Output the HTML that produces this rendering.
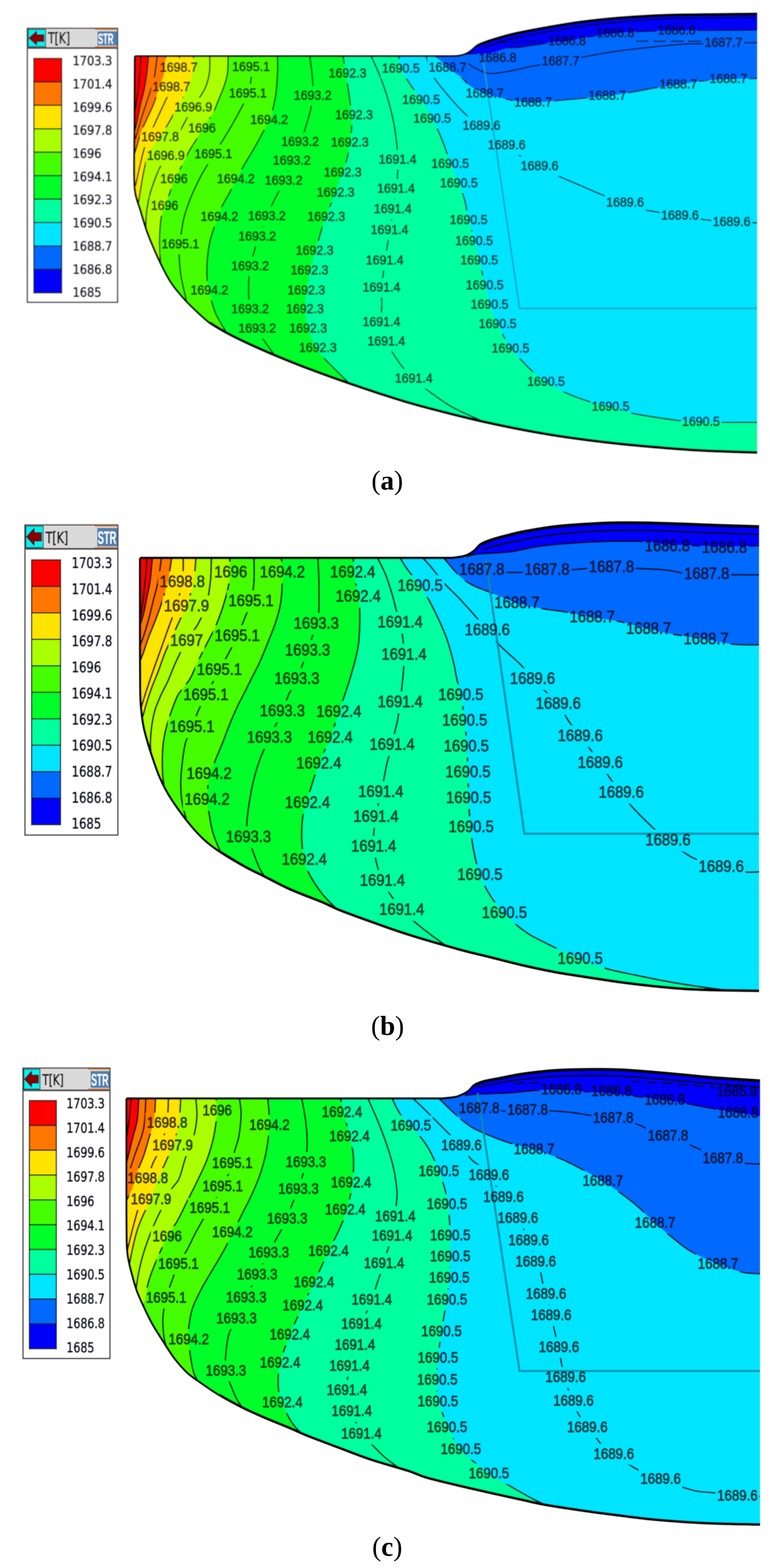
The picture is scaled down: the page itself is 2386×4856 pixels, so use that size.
<!DOCTYPE html>
<html lang="en"><head><meta charset="utf-8"><title>Temperature contours</title>
<style>html,body{margin:0;padding:0;background:#fff}svg{display:block}</style></head>
<body><svg width="2386" height="4856" viewBox="0 0 2386 4856">
<rect x="0" y="0" width="2386" height="4856" fill="#fff"/>
<filter id="softa" filterUnits="userSpaceOnUse" x="0" y="0" width="2386" height="1430"><feGaussianBlur stdDeviation="1.5"/></filter>
<g filter="url(#softa)">
<clipPath id="cla"><path d="M418.0,174.0L1380.0,174.0C1386.7,173.8 1409.2,174.3 1420.0,173.0C1430.8,171.7 1438.0,169.0 1445.0,166.0C1452.0,163.0 1456.5,159.2 1462.0,155.0C1467.5,150.8 1471.7,145.0 1478.0,141.0C1484.3,137.0 1488.0,135.3 1500.0,131.0C1512.0,126.7 1533.3,119.8 1550.0,115.0C1566.7,110.2 1575.0,107.3 1600.0,102.0C1625.0,96.7 1666.7,88.8 1700.0,83.0C1733.3,77.2 1766.7,71.5 1800.0,67.0C1833.3,62.5 1866.7,59.0 1900.0,56.0C1933.3,53.0 1966.7,50.8 2000.0,49.0C2033.3,47.2 2042.3,46.2 2100.0,45.0C2157.7,43.8 2305.0,42.5 2346.0,42.0L2346.0,1402.0C2321.7,1401.2 2241.0,1398.8 2200.0,1397.0C2159.0,1395.2 2150.0,1395.0 2100.0,1391.0C2050.0,1387.0 1966.7,1380.5 1900.0,1373.0C1833.3,1365.5 1766.7,1357.0 1700.0,1346.0C1633.3,1335.0 1566.7,1321.8 1500.0,1307.0C1433.3,1292.2 1350.0,1270.3 1300.0,1257.0C1250.0,1243.7 1236.7,1238.7 1200.0,1227.0C1163.3,1215.3 1121.7,1201.5 1080.0,1187.0C1038.3,1172.5 988.3,1154.5 950.0,1140.0C911.7,1125.5 881.7,1113.3 850.0,1100.0C818.3,1086.7 785.0,1071.7 760.0,1060.0C735.0,1048.3 718.3,1040.0 700.0,1030.0C681.7,1020.0 665.0,1010.8 650.0,1000.0C635.0,989.2 623.3,977.5 610.0,965.0C596.7,952.5 583.3,940.0 570.0,925.0C556.7,910.0 541.7,892.5 530.0,875.0C518.3,857.5 509.2,838.3 500.0,820.0C490.8,801.7 482.5,782.5 475.0,765.0C467.5,747.5 461.7,734.2 455.0,715.0C448.3,695.8 440.8,669.2 435.0,650.0C429.2,630.8 423.2,618.3 420.0,600.0C416.8,581.7 416.5,573.3 416.0,540.0C415.5,506.7 416.8,423.3 417.0,400.0L418.0,174.0Z"/></clipPath>
<mask id="mka" maskUnits="userSpaceOnUse" x="0" y="0" width="2386" height="4856"><rect x="0" y="0" width="2386" height="4856" fill="#fff"/><rect x="491.4" y="179.7" width="127.1" height="60.6" fill="#000"/><rect x="715.4" y="177.7" width="127.1" height="60.6" fill="#000"/><rect x="1014.4" y="197.7" width="127.1" height="60.6" fill="#000"/><rect x="1179.4" y="182.7" width="127.1" height="60.6" fill="#000"/><rect x="468.4" y="239.7" width="127.1" height="60.6" fill="#000"/><rect x="705.4" y="259.7" width="127.1" height="60.6" fill="#000"/><rect x="906.4" y="266.7" width="127.1" height="60.6" fill="#000"/><rect x="536.4" y="302.7" width="127.1" height="60.6" fill="#000"/><rect x="1034.4" y="326.7" width="127.1" height="60.6" fill="#000"/><rect x="771.4" y="341.7" width="127.1" height="60.6" fill="#000"/><rect x="579.4" y="367.7" width="95.2" height="60.6" fill="#000"/><rect x="433.4" y="394.7" width="127.1" height="60.6" fill="#000"/><rect x="867.4" y="409.7" width="127.1" height="60.6" fill="#000"/><rect x="1021.4" y="411.7" width="127.1" height="60.6" fill="#000"/><rect x="451.4" y="452.7" width="127.1" height="60.6" fill="#000"/><rect x="598.4" y="447.7" width="127.1" height="60.6" fill="#000"/><rect x="841.4" y="467.7" width="127.1" height="60.6" fill="#000"/><rect x="999.4" y="504.7" width="127.1" height="60.6" fill="#000"/><rect x="492.4" y="524.7" width="95.2" height="60.6" fill="#000"/><rect x="668.4" y="524.7" width="127.1" height="60.6" fill="#000"/><rect x="816.4" y="529.7" width="127.1" height="60.6" fill="#000"/><rect x="977.4" y="566.7" width="127.1" height="60.6" fill="#000"/><rect x="463.4" y="607.7" width="95.2" height="60.6" fill="#000"/><rect x="617.4" y="641.7" width="127.1" height="60.6" fill="#000"/><rect x="764.4" y="639.7" width="127.1" height="60.6" fill="#000"/><rect x="948.4" y="641.7" width="127.1" height="60.6" fill="#000"/><rect x="734.4" y="702.7" width="127.1" height="60.6" fill="#000"/><rect x="496.4" y="726.7" width="127.1" height="60.6" fill="#000"/><rect x="912.4" y="746.7" width="127.1" height="60.6" fill="#000"/><rect x="712.4" y="794.7" width="127.1" height="60.6" fill="#000"/><rect x="896.4" y="807.7" width="127.1" height="60.6" fill="#000"/><rect x="586.4" y="869.7" width="127.1" height="60.6" fill="#000"/><rect x="886.4" y="869.7" width="127.1" height="60.6" fill="#000"/><rect x="712.4" y="927.7" width="127.1" height="60.6" fill="#000"/><rect x="882.4" y="927.7" width="127.1" height="60.6" fill="#000"/><rect x="734.4" y="987.7" width="127.1" height="60.6" fill="#000"/><rect x="892.4" y="987.7" width="127.1" height="60.6" fill="#000"/><rect x="922.4" y="1047.7" width="127.1" height="60.6" fill="#000"/><rect x="1169.4" y="464.7" width="127.1" height="60.6" fill="#000"/><rect x="1164.4" y="554.7" width="127.1" height="60.6" fill="#000"/><rect x="1154.4" y="617.7" width="127.1" height="60.6" fill="#000"/><rect x="1144.4" y="682.7" width="127.1" height="60.6" fill="#000"/><rect x="1129.4" y="776.7" width="127.1" height="60.6" fill="#000"/><rect x="1119.4" y="860.7" width="127.1" height="60.6" fill="#000"/><rect x="1119.4" y="967.7" width="127.1" height="60.6" fill="#000"/><rect x="1134.4" y="1027.7" width="127.1" height="60.6" fill="#000"/><rect x="1219.4" y="1142.7" width="127.1" height="60.6" fill="#000"/><rect x="1324.4" y="179.7" width="127.1" height="60.6" fill="#000"/><rect x="1242.4" y="279.7" width="127.1" height="60.6" fill="#000"/><rect x="1276.4" y="337.7" width="127.1" height="60.6" fill="#000"/><rect x="1439.4" y="259.7" width="127.1" height="60.6" fill="#000"/><rect x="1429.4" y="359.7" width="127.1" height="60.6" fill="#000"/><rect x="1507.4" y="419.7" width="127.1" height="60.6" fill="#000"/><rect x="1609.4" y="484.7" width="127.1" height="60.6" fill="#000"/><rect x="1332.4" y="477.7" width="127.1" height="60.6" fill="#000"/><rect x="1359.4" y="537.7" width="127.1" height="60.6" fill="#000"/><rect x="1389.4" y="651.7" width="127.1" height="60.6" fill="#000"/><rect x="1406.4" y="716.7" width="127.1" height="60.6" fill="#000"/><rect x="1422.4" y="776.7" width="127.1" height="60.6" fill="#000"/><rect x="1439.4" y="853.7" width="127.1" height="60.6" fill="#000"/><rect x="1454.4" y="913.7" width="127.1" height="60.6" fill="#000"/><rect x="1479.4" y="973.7" width="127.1" height="60.6" fill="#000"/><rect x="1519.4" y="1049.7" width="127.1" height="60.6" fill="#000"/><rect x="1629.4" y="1152.7" width="127.1" height="60.6" fill="#000"/><rect x="1829.4" y="1229.7" width="127.1" height="60.6" fill="#000"/><rect x="2109.4" y="1276.7" width="127.1" height="60.6" fill="#000"/><rect x="1479.4" y="149.7" width="127.1" height="60.6" fill="#000"/><rect x="1674.4" y="159.7" width="127.1" height="60.6" fill="#000"/><rect x="1694.4" y="97.7" width="127.1" height="60.6" fill="#000"/><rect x="1844.4" y="72.7" width="127.1" height="60.6" fill="#000"/><rect x="2034.4" y="64.7" width="127.1" height="60.6" fill="#000"/><rect x="2179.4" y="102.7" width="127.1" height="60.6" fill="#000"/><rect x="1589.4" y="287.7" width="127.1" height="60.6" fill="#000"/><rect x="1819.4" y="266.7" width="127.1" height="60.6" fill="#000"/><rect x="2039.4" y="231.7" width="127.1" height="60.6" fill="#000"/><rect x="2194.4" y="214.7" width="127.1" height="60.6" fill="#000"/><rect x="1874.4" y="597.7" width="127.1" height="60.6" fill="#000"/><rect x="2044.4" y="637.7" width="127.1" height="60.6" fill="#000"/><rect x="2204.4" y="657.7" width="127.1" height="60.6" fill="#000"/></mask>
<g clip-path="url(#cla)">
<rect x="300" y="22" width="2200" height="1400" fill="#fc0000"/>
<path d="M460.0,174.0C459.2,182.5 457.2,208.2 455.0,225.0C452.8,241.8 450.3,258.3 447.0,275.0C443.7,291.7 438.7,308.3 435.0,325.0C431.3,341.7 428.2,360.5 425.0,375.0C421.8,389.5 417.5,405.8 416.0,412.0L116.0,412.0L116.0,1722.0L3000.0,1722.0L3000.0,-278.0L460.0,-278.0Z" fill="#ff7600"/>
<path d="M513.0,174.0C512.3,182.5 512.5,208.2 509.0,225.0C505.5,241.8 497.7,258.3 492.0,275.0C486.3,291.7 481.7,308.3 475.0,325.0C468.3,341.7 458.3,360.8 452.0,375.0C445.7,389.2 441.5,397.5 437.0,410.0C432.5,422.5 428.5,438.3 425.0,450.0C421.5,461.7 417.5,475.0 416.0,480.0L116.0,480.0L116.0,1722.0L3000.0,1722.0L3000.0,-278.0L513.0,-278.0Z" fill="#ffe400"/>
<path d="M600.0,174.0C599.5,182.5 599.5,209.8 597.0,225.0C594.5,240.2 590.3,251.7 585.0,265.0C579.7,278.3 571.7,292.5 565.0,305.0C558.3,317.5 552.5,326.7 545.0,340.0C537.5,353.3 529.5,369.7 520.0,385.0C510.5,400.3 497.7,417.8 488.0,432.0C478.3,446.2 468.3,457.0 462.0,470.0C455.7,483.0 453.7,495.0 450.0,510.0C446.3,525.0 443.0,543.3 440.0,560.0C437.0,576.7 434.7,593.8 432.0,610.0C429.3,626.2 425.3,649.2 424.0,657.0L124.0,657.0L124.0,1722.0L3000.0,1722.0L3000.0,-278.0L600.0,-278.0Z" fill="#aaff04"/>
<path d="M707.0,174.0C706.7,182.5 707.0,209.8 705.0,225.0C703.0,240.2 699.7,250.8 695.0,265.0C690.3,279.2 682.8,295.8 677.0,310.0C671.2,324.2 667.8,335.8 660.0,350.0C652.2,364.2 638.3,381.7 630.0,395.0C621.7,408.3 617.5,417.5 610.0,430.0C602.5,442.5 593.3,455.0 585.0,470.0C576.7,485.0 567.5,505.5 560.0,520.0C552.5,534.5 545.8,543.7 540.0,557.0C534.2,570.3 529.8,586.2 525.0,600.0C520.2,613.8 515.2,628.3 511.0,640.0C506.8,651.7 502.7,655.8 500.0,670.0C497.3,684.2 495.8,707.5 495.0,725.0C494.2,742.5 494.5,759.5 495.0,775.0C495.5,790.5 497.5,810.8 498.0,818.0L198.0,818.0L198.0,1722.0L3000.0,1722.0L3000.0,-278.0L707.0,-278.0Z" fill="#44fe04"/>
<path d="M860.0,174.0C860.0,182.5 860.8,205.7 860.0,225.0C859.2,244.3 857.5,270.8 855.0,290.0C852.5,309.2 848.3,326.3 845.0,340.0C841.7,353.7 839.2,362.0 835.0,372.0C830.8,382.0 827.5,386.2 820.0,400.0C812.5,413.8 800.0,437.5 790.0,455.0C780.0,472.5 769.7,488.3 760.0,505.0C750.3,521.7 739.5,540.8 732.0,555.0C724.5,569.2 722.8,575.0 715.0,590.0C707.2,605.0 693.3,626.7 685.0,645.0C676.7,663.3 670.8,682.5 665.0,700.0C659.2,717.5 653.8,731.7 650.0,750.0C646.2,768.3 643.3,790.8 642.0,810.0C640.7,829.2 641.0,850.0 642.0,865.0C643.0,880.0 645.8,889.2 648.0,900.0C650.2,910.8 651.3,917.5 655.0,930.0C658.7,942.5 662.2,958.3 670.0,975.0C677.8,991.7 696.7,1020.8 702.0,1030.0L734.0,1330.0L3000.0,1722.0L3000.0,-278.0L860.0,-278.0Z" fill="#00fe2a"/>
<path d="M1063.0,174.0C1065.0,186.7 1071.3,225.7 1075.0,250.0C1078.7,274.3 1082.5,298.3 1085.0,320.0C1087.5,341.7 1090.0,360.0 1090.0,380.0C1090.0,400.0 1087.8,420.0 1085.0,440.0C1082.2,460.0 1078.7,480.0 1073.0,500.0C1067.3,520.0 1058.2,540.0 1051.0,560.0C1043.8,580.0 1037.5,600.0 1030.0,620.0C1022.5,640.0 1013.5,658.3 1006.0,680.0C998.5,701.7 991.8,726.7 985.0,750.0C978.2,773.3 970.8,795.0 965.0,820.0C959.2,845.0 953.2,876.7 950.0,900.0C946.8,923.3 945.2,940.0 946.0,960.0C946.8,980.0 949.3,1000.8 955.0,1020.0C960.7,1039.2 971.7,1060.0 980.0,1075.0C988.3,1090.0 988.0,1091.3 1005.0,1110.0C1022.0,1128.7 1069.2,1174.2 1082.0,1187.0L1159.0,1487.0L3000.0,1722.0L3000.0,-278.0L1063.0,-278.0Z" fill="#00ff9e"/>
<path d="M1235.0,174.0C1236.3,180.5 1237.2,198.7 1243.0,213.0C1248.8,227.3 1259.5,243.8 1270.0,260.0C1280.5,276.2 1294.3,292.0 1306.0,310.0C1317.7,328.0 1331.0,351.3 1340.0,368.0C1349.0,384.7 1353.3,394.7 1360.0,410.0C1366.7,425.3 1374.0,443.7 1380.0,460.0C1386.0,476.3 1388.8,490.0 1396.0,508.0C1403.2,526.0 1415.7,549.3 1423.0,568.0C1430.3,586.7 1435.0,601.0 1440.0,620.0C1445.0,639.0 1448.0,660.8 1453.0,682.0C1458.0,703.2 1464.5,726.2 1470.0,747.0C1475.5,767.8 1481.8,789.8 1486.0,807.0C1490.2,824.2 1492.2,837.0 1495.0,850.0C1497.8,863.0 1499.2,869.2 1503.0,885.0C1506.8,900.8 1511.3,925.0 1518.0,945.0C1524.7,965.0 1536.0,989.2 1543.0,1005.0C1550.0,1020.8 1553.3,1027.5 1560.0,1040.0C1566.7,1052.5 1573.0,1066.7 1583.0,1080.0C1593.0,1093.3 1608.8,1108.3 1620.0,1120.0C1631.2,1131.7 1637.8,1139.5 1650.0,1150.0C1662.2,1160.5 1676.3,1172.2 1693.0,1183.0C1709.7,1193.8 1727.2,1204.7 1750.0,1215.0C1772.8,1225.3 1806.2,1237.5 1830.0,1245.0C1853.8,1252.5 1871.3,1254.2 1893.0,1260.0C1914.7,1265.8 1933.8,1274.2 1960.0,1280.0C1986.2,1285.8 2025.0,1291.2 2050.0,1295.0C2075.0,1298.8 2089.5,1301.0 2110.0,1303.0C2130.5,1305.0 2151.3,1306.2 2173.0,1307.0C2194.7,1307.8 2211.2,1307.8 2240.0,1308.0C2268.8,1308.2 2328.3,1308.0 2346.0,1308.0L3000.0,1308.0L3000.0,-278.0L1235.0,-278.0Z" fill="#00e5ff"/>
<path d="M1350.0,174.0C1356.3,180.0 1374.7,199.0 1388.0,210.0C1401.3,221.0 1418.8,230.8 1430.0,240.0C1441.2,249.2 1442.8,256.7 1455.0,265.0C1467.2,273.3 1485.5,283.3 1503.0,290.0C1520.5,296.7 1543.8,301.2 1560.0,305.0C1576.2,308.8 1584.5,310.8 1600.0,313.0C1615.5,315.2 1633.0,318.2 1653.0,318.0C1673.0,317.8 1695.5,314.2 1720.0,312.0C1744.5,309.8 1772.8,307.5 1800.0,305.0C1827.2,302.5 1856.3,300.3 1883.0,297.0C1909.7,293.7 1935.5,289.2 1960.0,285.0C1984.5,280.8 2006.2,275.8 2030.0,272.0C2053.8,268.2 2078.0,265.7 2103.0,262.0C2128.0,258.3 2154.2,252.8 2180.0,250.0C2205.8,247.2 2230.3,246.2 2258.0,245.0C2285.7,243.8 2331.3,243.3 2346.0,243.0L3000.0,243.0L3000.0,-278.0L1350.0,-278.0Z" fill="#0069ff"/>
<path d="M1440.0,168.0C1445.0,167.7 1456.7,166.5 1470.0,166.0C1483.3,165.5 1503.3,167.7 1520.0,165.0C1536.7,162.3 1553.3,153.3 1570.0,150.0C1586.7,146.7 1595.0,148.3 1620.0,145.0C1645.0,141.7 1697.0,132.8 1720.0,130.0C1743.0,127.2 1741.3,130.5 1758.0,128.0C1774.7,125.5 1795.0,119.2 1820.0,115.0C1845.0,110.8 1878.0,106.0 1908.0,103.0C1938.0,100.0 1968.3,98.3 2000.0,97.0C2031.7,95.7 2064.7,95.5 2098.0,95.0C2131.3,94.5 2158.7,94.3 2200.0,94.0C2241.3,93.7 2321.7,93.2 2346.0,93.0L3000.0,93.0L3000.0,-278.0L1440.0,-278.0Z" fill="#0202fa"/>
</g>
<g clip-path="url(#cla)"><g mask="url(#mka)" fill="none" stroke="#000" stroke-width="4.0" stroke-opacity="0.85">
<path d="M437.0,174.0C436.2,185.0 434.0,219.0 432.0,240.0C430.0,261.0 427.3,282.5 425.0,300.0C422.7,317.5 419.2,337.5 418.0,345.0"/>
<path d="M460.0,174.0C459.2,182.5 457.2,208.2 455.0,225.0C452.8,241.8 450.3,258.3 447.0,275.0C443.7,291.7 438.7,308.3 435.0,325.0C431.3,341.7 428.2,360.5 425.0,375.0C421.8,389.5 417.5,405.8 416.0,412.0"/>
<path d="M487.0,174.0C485.5,185.0 482.8,218.0 478.0,240.0C473.2,262.0 464.8,284.3 458.0,306.0C451.2,327.7 443.3,349.3 437.0,370.0C430.7,390.7 422.8,420.0 420.0,430.0"/>
<path d="M513.0,174.0C512.3,182.5 512.5,208.2 509.0,225.0C505.5,241.8 497.7,258.3 492.0,275.0C486.3,291.7 481.7,308.3 475.0,325.0C468.3,341.7 458.3,360.8 452.0,375.0C445.7,389.2 441.5,397.5 437.0,410.0C432.5,422.5 428.5,438.3 425.0,450.0C421.5,461.7 417.5,475.0 416.0,480.0"/>
<path d="M556.0,174.0C555.0,183.3 553.5,214.0 550.0,230.0C546.5,246.0 540.5,257.8 535.0,270.0C529.5,282.2 527.0,282.5 517.0,303.0C507.0,323.5 486.2,368.5 475.0,393.0C463.8,417.5 457.2,428.8 450.0,450.0C442.8,471.2 437.0,499.2 432.0,520.0C427.0,540.8 422.0,565.8 420.0,575.0"/>
<path d="M600.0,174.0C599.5,182.5 599.5,209.8 597.0,225.0C594.5,240.2 590.3,251.7 585.0,265.0C579.7,278.3 571.7,292.5 565.0,305.0C558.3,317.5 552.5,326.7 545.0,340.0C537.5,353.3 529.5,369.7 520.0,385.0C510.5,400.3 497.7,417.8 488.0,432.0C478.3,446.2 468.3,457.0 462.0,470.0C455.7,483.0 453.7,495.0 450.0,510.0C446.3,525.0 443.0,543.3 440.0,560.0C437.0,576.7 434.7,593.8 432.0,610.0C429.3,626.2 425.3,649.2 424.0,657.0"/>
<path d="M650.0,174.0C649.8,182.5 651.2,209.0 649.0,225.0C646.8,241.0 642.2,257.0 637.0,270.0C631.8,283.0 624.2,292.5 618.0,303.0C611.8,313.5 606.3,322.7 600.0,333.0C593.7,343.3 589.2,348.8 580.0,365.0C570.8,381.2 555.8,410.3 545.0,430.0C534.2,449.7 523.3,468.0 515.0,483.0C506.7,498.0 500.5,508.8 495.0,520.0C489.5,531.2 487.0,536.7 482.0,550.0C477.0,563.3 469.5,583.3 465.0,600.0C460.5,616.7 457.2,633.3 455.0,650.0C452.8,666.7 452.0,688.7 452.0,700.0C452.0,711.3 454.5,715.0 455.0,718.0"/>
<path d="M707.0,174.0C706.7,182.5 707.0,209.8 705.0,225.0C703.0,240.2 699.7,250.8 695.0,265.0C690.3,279.2 682.8,295.8 677.0,310.0C671.2,324.2 667.8,335.8 660.0,350.0C652.2,364.2 638.3,381.7 630.0,395.0C621.7,408.3 617.5,417.5 610.0,430.0C602.5,442.5 593.3,455.0 585.0,470.0C576.7,485.0 567.5,505.5 560.0,520.0C552.5,534.5 545.8,543.7 540.0,557.0C534.2,570.3 529.8,586.2 525.0,600.0C520.2,613.8 515.2,628.3 511.0,640.0C506.8,651.7 502.7,655.8 500.0,670.0C497.3,684.2 495.8,707.5 495.0,725.0C494.2,742.5 494.5,759.5 495.0,775.0C495.5,790.5 497.5,810.8 498.0,818.0"/>
<path d="M780.0,174.0C779.8,179.7 779.3,196.2 779.0,208.0C778.7,219.8 779.7,231.3 778.0,245.0C776.3,258.7 773.7,275.8 769.0,290.0C764.3,304.2 758.2,314.2 750.0,330.0C741.8,345.8 730.0,367.5 720.0,385.0C710.0,402.5 699.7,419.5 690.0,435.0C680.3,450.5 670.3,464.7 662.0,478.0C653.7,491.3 647.0,503.0 640.0,515.0C633.0,527.0 628.3,533.3 620.0,550.0C611.7,566.7 598.3,594.2 590.0,615.0C581.7,635.8 574.7,657.5 570.0,675.0C565.3,692.5 564.0,706.3 562.0,720.0C560.0,733.7 559.2,746.2 558.0,757.0C556.8,767.8 554.7,769.5 555.0,785.0C555.3,800.5 556.7,827.5 560.0,850.0C563.3,872.5 571.7,905.3 575.0,920.0C578.3,934.7 579.2,935.0 580.0,938.0"/>
<path d="M860.0,174.0C860.0,182.5 860.8,205.7 860.0,225.0C859.2,244.3 857.5,270.8 855.0,290.0C852.5,309.2 848.3,326.3 845.0,340.0C841.7,353.7 839.2,362.0 835.0,372.0C830.8,382.0 827.5,386.2 820.0,400.0C812.5,413.8 800.0,437.5 790.0,455.0C780.0,472.5 769.7,488.3 760.0,505.0C750.3,521.7 739.5,540.8 732.0,555.0C724.5,569.2 722.8,575.0 715.0,590.0C707.2,605.0 693.3,626.7 685.0,645.0C676.7,663.3 670.8,682.5 665.0,700.0C659.2,717.5 653.8,731.7 650.0,750.0C646.2,768.3 643.3,790.8 642.0,810.0C640.7,829.2 641.0,850.0 642.0,865.0C643.0,880.0 645.8,889.2 648.0,900.0C650.2,910.8 651.3,917.5 655.0,930.0C658.7,942.5 662.2,958.3 670.0,975.0C677.8,991.7 696.7,1020.8 702.0,1030.0"/>
<path d="M960.0,174.0C961.3,185.0 966.3,219.5 968.0,240.0C969.7,260.5 971.3,278.7 970.0,297.0C968.7,315.3 964.2,332.8 960.0,350.0C955.8,367.2 949.8,385.0 945.0,400.0C940.2,415.0 937.7,423.7 931.0,440.0C924.3,456.3 913.5,478.0 905.0,498.0C896.5,518.0 888.3,541.3 880.0,560.0C871.7,578.7 861.7,596.7 855.0,610.0C848.3,623.3 844.5,630.0 840.0,640.0C835.5,650.0 835.0,654.5 828.0,670.0C821.0,685.5 804.3,716.3 798.0,733.0C791.7,749.7 792.7,758.8 790.0,770.0C787.3,781.2 784.3,790.8 782.0,800.0C779.7,809.2 777.8,815.0 776.0,825.0C774.2,835.0 771.8,842.5 771.0,860.0C770.2,877.5 770.2,913.7 771.0,930.0C771.8,946.3 771.5,943.3 776.0,958.0C780.5,972.7 791.5,1002.7 798.0,1018.0C804.5,1033.3 806.0,1036.2 815.0,1050.0C824.0,1063.8 845.8,1092.5 852.0,1101.0"/>
<path d="M1063.0,174.0C1065.0,186.7 1071.3,225.7 1075.0,250.0C1078.7,274.3 1082.5,298.3 1085.0,320.0C1087.5,341.7 1090.0,360.0 1090.0,380.0C1090.0,400.0 1087.8,420.0 1085.0,440.0C1082.2,460.0 1078.7,480.0 1073.0,500.0C1067.3,520.0 1058.2,540.0 1051.0,560.0C1043.8,580.0 1037.5,600.0 1030.0,620.0C1022.5,640.0 1013.5,658.3 1006.0,680.0C998.5,701.7 991.8,726.7 985.0,750.0C978.2,773.3 970.8,795.0 965.0,820.0C959.2,845.0 953.2,876.7 950.0,900.0C946.8,923.3 945.2,940.0 946.0,960.0C946.8,980.0 949.3,1000.8 955.0,1020.0C960.7,1039.2 971.7,1060.0 980.0,1075.0C988.3,1090.0 988.0,1091.3 1005.0,1110.0C1022.0,1128.7 1069.2,1174.2 1082.0,1187.0"/>
<path d="M1150.0,174.0C1154.2,183.3 1166.7,209.0 1175.0,230.0C1183.3,251.0 1192.5,275.0 1200.0,300.0C1207.5,325.0 1215.0,355.0 1220.0,380.0C1225.0,405.0 1227.8,430.8 1230.0,450.0C1232.2,469.2 1232.7,480.0 1233.0,495.0C1233.3,510.0 1232.8,525.0 1232.0,540.0C1231.2,555.0 1230.3,567.0 1228.0,585.0C1225.7,603.0 1221.3,626.7 1218.0,648.0C1214.7,669.3 1212.2,686.5 1208.0,713.0C1203.8,739.5 1197.2,777.5 1193.0,807.0C1188.8,836.5 1184.7,867.8 1183.0,890.0C1181.3,912.2 1183.0,922.0 1183.0,940.0C1183.0,958.0 1180.5,978.3 1183.0,998.0C1185.5,1017.7 1192.7,1042.7 1198.0,1058.0C1203.3,1073.3 1206.3,1076.3 1215.0,1090.0C1223.7,1103.7 1238.7,1126.2 1250.0,1140.0C1261.3,1153.8 1271.3,1162.2 1283.0,1173.0C1294.7,1183.8 1300.5,1190.5 1320.0,1205.0C1339.5,1219.5 1371.3,1243.7 1400.0,1260.0C1428.7,1276.3 1476.7,1295.8 1492.0,1303.0"/>
<path d="M1235.0,174.0C1236.3,180.5 1237.2,198.7 1243.0,213.0C1248.8,227.3 1259.5,243.8 1270.0,260.0C1280.5,276.2 1294.3,292.0 1306.0,310.0C1317.7,328.0 1331.0,351.3 1340.0,368.0C1349.0,384.7 1353.3,394.7 1360.0,410.0C1366.7,425.3 1374.0,443.7 1380.0,460.0C1386.0,476.3 1388.8,490.0 1396.0,508.0C1403.2,526.0 1415.7,549.3 1423.0,568.0C1430.3,586.7 1435.0,601.0 1440.0,620.0C1445.0,639.0 1448.0,660.8 1453.0,682.0C1458.0,703.2 1464.5,726.2 1470.0,747.0C1475.5,767.8 1481.8,789.8 1486.0,807.0C1490.2,824.2 1492.2,837.0 1495.0,850.0C1497.8,863.0 1499.2,869.2 1503.0,885.0C1506.8,900.8 1511.3,925.0 1518.0,945.0C1524.7,965.0 1536.0,989.2 1543.0,1005.0C1550.0,1020.8 1553.3,1027.5 1560.0,1040.0C1566.7,1052.5 1573.0,1066.7 1583.0,1080.0C1593.0,1093.3 1608.8,1108.3 1620.0,1120.0C1631.2,1131.7 1637.8,1139.5 1650.0,1150.0C1662.2,1160.5 1676.3,1172.2 1693.0,1183.0C1709.7,1193.8 1727.2,1204.7 1750.0,1215.0C1772.8,1225.3 1806.2,1237.5 1830.0,1245.0C1853.8,1252.5 1871.3,1254.2 1893.0,1260.0C1914.7,1265.8 1933.8,1274.2 1960.0,1280.0C1986.2,1285.8 2025.0,1291.2 2050.0,1295.0C2075.0,1298.8 2089.5,1301.0 2110.0,1303.0C2130.5,1305.0 2151.3,1306.2 2173.0,1307.0C2194.7,1307.8 2211.2,1307.8 2240.0,1308.0C2268.8,1308.2 2328.3,1308.0 2346.0,1308.0"/>
<path d="M1320.0,174.0C1324.2,185.0 1330.0,215.7 1345.0,240.0C1360.0,264.3 1391.7,299.2 1410.0,320.0C1428.3,340.8 1441.2,353.3 1455.0,365.0C1468.8,376.7 1473.7,375.8 1493.0,390.0C1512.3,404.2 1550.7,434.2 1571.0,450.0C1591.3,465.8 1598.0,474.2 1615.0,485.0C1632.0,495.8 1653.8,505.0 1673.0,515.0C1692.2,525.0 1708.8,535.0 1730.0,545.0C1751.2,555.0 1776.7,565.0 1800.0,575.0C1823.3,585.0 1847.0,596.2 1870.0,605.0C1893.0,613.8 1916.3,620.5 1938.0,628.0C1959.7,635.5 1971.7,643.3 2000.0,650.0C2028.3,656.7 2078.0,663.0 2108.0,668.0C2138.0,673.0 2153.3,676.7 2180.0,680.0C2206.7,683.3 2240.3,686.3 2268.0,688.0C2295.7,689.7 2333.0,689.7 2346.0,690.0"/>
<path d="M1350.0,174.0C1356.3,180.0 1374.7,199.0 1388.0,210.0C1401.3,221.0 1418.8,230.8 1430.0,240.0C1441.2,249.2 1442.8,256.7 1455.0,265.0C1467.2,273.3 1485.5,283.3 1503.0,290.0C1520.5,296.7 1543.8,301.2 1560.0,305.0C1576.2,308.8 1584.5,310.8 1600.0,313.0C1615.5,315.2 1633.0,318.2 1653.0,318.0C1673.0,317.8 1695.5,314.2 1720.0,312.0C1744.5,309.8 1772.8,307.5 1800.0,305.0C1827.2,302.5 1856.3,300.3 1883.0,297.0C1909.7,293.7 1935.5,289.2 1960.0,285.0C1984.5,280.8 2006.2,275.8 2030.0,272.0C2053.8,268.2 2078.0,265.7 2103.0,262.0C2128.0,258.3 2154.2,252.8 2180.0,250.0C2205.8,247.2 2230.3,246.2 2258.0,245.0C2285.7,243.8 2331.3,243.3 2346.0,243.0"/>
<path d="M1440.0,190.0C1446.7,194.2 1466.7,208.7 1480.0,215.0C1493.3,221.3 1503.3,227.2 1520.0,228.0C1536.7,228.8 1558.3,223.8 1580.0,220.0C1601.7,216.2 1623.7,210.0 1650.0,205.0C1676.3,200.0 1713.0,194.5 1738.0,190.0C1763.0,185.5 1773.0,183.0 1800.0,178.0C1827.0,173.0 1866.7,165.0 1900.0,160.0C1933.3,155.0 1966.7,151.7 2000.0,148.0C2033.3,144.3 2070.0,140.2 2100.0,138.0C2130.0,135.8 2156.2,135.8 2180.0,135.0C2203.8,134.2 2215.3,133.5 2243.0,133.0C2270.7,132.5 2328.8,132.2 2346.0,132.0"/>
<path d="M1440.0,168.0C1445.0,167.7 1456.7,166.5 1470.0,166.0C1483.3,165.5 1503.3,167.7 1520.0,165.0C1536.7,162.3 1553.3,153.3 1570.0,150.0C1586.7,146.7 1595.0,148.3 1620.0,145.0C1645.0,141.7 1697.0,132.8 1720.0,130.0C1743.0,127.2 1741.3,130.5 1758.0,128.0C1774.7,125.5 1795.0,119.2 1820.0,115.0C1845.0,110.8 1878.0,106.0 1908.0,103.0C1938.0,100.0 1968.3,98.3 2000.0,97.0C2031.7,95.7 2064.7,95.5 2098.0,95.0C2131.3,94.5 2158.7,94.3 2200.0,94.0C2241.3,93.7 2321.7,93.2 2346.0,93.0"/>
<path d="M1540.0,132.0L1680.0,128.0" stroke-dasharray="30 14"/>
<path d="M1970.0,128.0L2180.0,128.0" stroke-dasharray="40 14"/>
</g></g>
<path d="M1497.0,186.0L1610.0,955.0L2346.0,955.0" fill="none" stroke="#14a0c4" stroke-opacity="0.9" stroke-width="5"/>
<path d="M418.0,174.0L1380.0,174.0C1386.7,173.8 1409.2,174.3 1420.0,173.0C1430.8,171.7 1438.0,169.0 1445.0,166.0C1452.0,163.0 1456.5,159.2 1462.0,155.0C1467.5,150.8 1471.7,145.0 1478.0,141.0C1484.3,137.0 1488.0,135.3 1500.0,131.0C1512.0,126.7 1533.3,119.8 1550.0,115.0C1566.7,110.2 1575.0,107.3 1600.0,102.0C1625.0,96.7 1666.7,88.8 1700.0,83.0C1733.3,77.2 1766.7,71.5 1800.0,67.0C1833.3,62.5 1866.7,59.0 1900.0,56.0C1933.3,53.0 1966.7,50.8 2000.0,49.0C2033.3,47.2 2042.3,46.2 2100.0,45.0C2157.7,43.8 2305.0,42.5 2346.0,42.0" fill="none" stroke="#000" stroke-width="5"/>
<path d="M1478.0,141.0C1481.7,139.3 1488.0,135.3 1500.0,131.0C1512.0,126.7 1533.3,119.8 1550.0,115.0C1566.7,110.2 1575.0,107.3 1600.0,102.0C1625.0,96.7 1666.7,88.8 1700.0,83.0C1733.3,77.2 1766.7,71.5 1800.0,67.0C1833.3,62.5 1866.7,59.0 1900.0,56.0C1933.3,53.0 1966.7,50.8 2000.0,49.0C2033.3,47.2 2042.3,46.2 2100.0,45.0C2157.7,43.8 2305.0,42.5 2346.0,42.0" fill="none" stroke="#000" stroke-width="8" transform="translate(0,2.0)"/>
<path d="M1500.0,146.0C1508.3,143.3 1533.3,134.8 1550.0,130.0C1566.7,125.2 1575.0,122.3 1600.0,117.0C1625.0,111.7 1666.7,103.8 1700.0,98.0C1733.3,92.2 1766.7,86.7 1800.0,82.0C1833.3,77.3 1866.7,73.3 1900.0,70.0C1933.3,66.7 1966.7,64.2 2000.0,62.0C2033.3,59.8 2042.3,58.3 2100.0,57.0C2157.7,55.7 2305.0,54.5 2346.0,54.0" fill="none" stroke="#000010" stroke-width="4.0"/>
<path d="M418.0,174.0L417.0,400.0C416.8,423.3 415.5,506.7 416.0,540.0C416.5,573.3 416.8,581.7 420.0,600.0C423.2,618.3 429.2,630.8 435.0,650.0C440.8,669.2 448.3,695.8 455.0,715.0C461.7,734.2 467.5,747.5 475.0,765.0C482.5,782.5 490.8,801.7 500.0,820.0C509.2,838.3 518.3,857.5 530.0,875.0C541.7,892.5 556.7,910.0 570.0,925.0C583.3,940.0 596.7,952.5 610.0,965.0C623.3,977.5 635.0,989.2 650.0,1000.0C665.0,1010.8 681.7,1020.0 700.0,1030.0C718.3,1040.0 735.0,1048.3 760.0,1060.0C785.0,1071.7 818.3,1086.7 850.0,1100.0C881.7,1113.3 911.7,1125.5 950.0,1140.0C988.3,1154.5 1038.3,1172.5 1080.0,1187.0C1121.7,1201.5 1163.3,1215.3 1200.0,1227.0C1236.7,1238.7 1250.0,1243.7 1300.0,1257.0C1350.0,1270.3 1433.3,1292.2 1500.0,1307.0C1566.7,1321.8 1633.3,1335.0 1700.0,1346.0C1766.7,1357.0 1833.3,1365.5 1900.0,1373.0C1966.7,1380.5 2050.0,1387.0 2100.0,1391.0C2150.0,1395.0 2159.0,1395.2 2200.0,1397.0C2241.0,1398.8 2321.7,1401.2 2346.0,1402.0" fill="none" stroke="#000" stroke-width="5.5" stroke-linejoin="round"/>
<path d="M650.0,1000.0C658.3,1005.0 681.7,1020.0 700.0,1030.0C718.3,1040.0 735.0,1048.3 760.0,1060.0C785.0,1071.7 818.3,1086.7 850.0,1100.0C881.7,1113.3 911.7,1125.5 950.0,1140.0C988.3,1154.5 1038.3,1172.5 1080.0,1187.0C1121.7,1201.5 1163.3,1215.3 1200.0,1227.0C1236.7,1238.7 1250.0,1243.7 1300.0,1257.0C1350.0,1270.3 1433.3,1292.2 1500.0,1307.0C1566.7,1321.8 1633.3,1335.0 1700.0,1346.0C1766.7,1357.0 1833.3,1365.5 1900.0,1373.0C1966.7,1380.5 2050.0,1387.0 2100.0,1391.0C2150.0,1395.0 2159.0,1395.2 2200.0,1397.0C2241.0,1398.8 2321.7,1401.2 2346.0,1402.0" fill="none" stroke="#000" stroke-width="7.5" transform="translate(0,-1)"/>
<g font-family="'Liberation Sans', sans-serif" font-size="38.3" fill="#000" text-anchor="middle" stroke="#000" stroke-width="2.0" stroke-linejoin="round" opacity="0.72">
<text transform="translate(554.0,207.5) scale(1,1.08)" y="13.7">1698.7</text>
<text transform="translate(778.0,205.5) scale(1,1.08)" y="13.7">1695.1</text>
<text transform="translate(1077.0,225.5) scale(1,1.08)" y="13.7">1692.3</text>
<text transform="translate(1242.0,210.5) scale(1,1.08)" y="13.7">1690.5</text>
<text transform="translate(531.0,267.5) scale(1,1.08)" y="13.7">1698.7</text>
<text transform="translate(768.0,287.5) scale(1,1.08)" y="13.7">1695.1</text>
<text transform="translate(969.0,294.5) scale(1,1.08)" y="13.7">1693.2</text>
<text transform="translate(599.0,330.5) scale(1,1.08)" y="13.7">1696.9</text>
<text transform="translate(1097.0,354.5) scale(1,1.08)" y="13.7">1692.3</text>
<text transform="translate(834.0,369.5) scale(1,1.08)" y="13.7">1694.2</text>
<text transform="translate(626.0,395.5) scale(1,1.08)" y="13.7">1696</text>
<text transform="translate(496.0,422.5) scale(1,1.08)" y="13.7">1697.8</text>
<text transform="translate(930.0,437.5) scale(1,1.08)" y="13.7">1693.2</text>
<text transform="translate(1084.0,439.5) scale(1,1.08)" y="13.7">1692.3</text>
<text transform="translate(514.0,480.5) scale(1,1.08)" y="13.7">1696.9</text>
<text transform="translate(661.0,475.5) scale(1,1.08)" y="13.7">1695.1</text>
<text transform="translate(904.0,495.5) scale(1,1.08)" y="13.7">1693.2</text>
<text transform="translate(1062.0,532.5) scale(1,1.08)" y="13.7">1692.3</text>
<text transform="translate(539.0,552.5) scale(1,1.08)" y="13.7">1696</text>
<text transform="translate(731.0,552.5) scale(1,1.08)" y="13.7">1694.2</text>
<text transform="translate(879.0,557.5) scale(1,1.08)" y="13.7">1693.2</text>
<text transform="translate(1040.0,594.5) scale(1,1.08)" y="13.7">1692.3</text>
<text transform="translate(510.0,635.5) scale(1,1.08)" y="13.7">1696</text>
<text transform="translate(680.0,669.5) scale(1,1.08)" y="13.7">1694.2</text>
<text transform="translate(827.0,667.5) scale(1,1.08)" y="13.7">1693.2</text>
<text transform="translate(1011.0,669.5) scale(1,1.08)" y="13.7">1692.3</text>
<text transform="translate(797.0,730.5) scale(1,1.08)" y="13.7">1693.2</text>
<text transform="translate(559.0,754.5) scale(1,1.08)" y="13.7">1695.1</text>
<text transform="translate(975.0,774.5) scale(1,1.08)" y="13.7">1692.3</text>
<text transform="translate(775.0,822.5) scale(1,1.08)" y="13.7">1693.2</text>
<text transform="translate(959.0,835.5) scale(1,1.08)" y="13.7">1692.3</text>
<text transform="translate(649.0,897.5) scale(1,1.08)" y="13.7">1694.2</text>
<text transform="translate(949.0,897.5) scale(1,1.08)" y="13.7">1692.3</text>
<text transform="translate(775.0,955.5) scale(1,1.08)" y="13.7">1693.2</text>
<text transform="translate(945.0,955.5) scale(1,1.08)" y="13.7">1692.3</text>
<text transform="translate(797.0,1015.5) scale(1,1.08)" y="13.7">1693.2</text>
<text transform="translate(955.0,1015.5) scale(1,1.08)" y="13.7">1692.3</text>
<text transform="translate(985.0,1075.5) scale(1,1.08)" y="13.7">1692.3</text>
<text transform="translate(1232.0,492.5) scale(1,1.08)" y="13.7">1691.4</text>
<text transform="translate(1227.0,582.5) scale(1,1.08)" y="13.7">1691.4</text>
<text transform="translate(1217.0,645.5) scale(1,1.08)" y="13.7">1691.4</text>
<text transform="translate(1207.0,710.5) scale(1,1.08)" y="13.7">1691.4</text>
<text transform="translate(1192.0,804.5) scale(1,1.08)" y="13.7">1691.4</text>
<text transform="translate(1182.0,888.5) scale(1,1.08)" y="13.7">1691.4</text>
<text transform="translate(1182.0,995.5) scale(1,1.08)" y="13.7">1691.4</text>
<text transform="translate(1197.0,1055.5) scale(1,1.08)" y="13.7">1691.4</text>
<text transform="translate(1282.0,1170.5) scale(1,1.08)" y="13.7">1691.4</text>
<text transform="translate(1387.0,207.5) scale(1,1.08)" y="13.7">1688.7</text>
<text transform="translate(1305.0,307.5) scale(1,1.08)" y="13.7">1690.5</text>
<text transform="translate(1339.0,365.5) scale(1,1.08)" y="13.7">1690.5</text>
<text transform="translate(1502.0,287.5) scale(1,1.08)" y="13.7">1688.7</text>
<text transform="translate(1492.0,387.5) scale(1,1.08)" y="13.7">1689.6</text>
<text transform="translate(1570.0,447.5) scale(1,1.08)" y="13.7">1689.6</text>
<text transform="translate(1672.0,512.5) scale(1,1.08)" y="13.7">1689.6</text>
<text transform="translate(1395.0,505.5) scale(1,1.08)" y="13.7">1690.5</text>
<text transform="translate(1422.0,565.5) scale(1,1.08)" y="13.7">1690.5</text>
<text transform="translate(1452.0,679.5) scale(1,1.08)" y="13.7">1690.5</text>
<text transform="translate(1469.0,744.5) scale(1,1.08)" y="13.7">1690.5</text>
<text transform="translate(1485.0,804.5) scale(1,1.08)" y="13.7">1690.5</text>
<text transform="translate(1502.0,881.5) scale(1,1.08)" y="13.7">1690.5</text>
<text transform="translate(1517.0,941.5) scale(1,1.08)" y="13.7">1690.5</text>
<text transform="translate(1542.0,1001.5) scale(1,1.08)" y="13.7">1690.5</text>
<text transform="translate(1582.0,1077.5) scale(1,1.08)" y="13.7">1690.5</text>
<text transform="translate(1692.0,1180.5) scale(1,1.08)" y="13.7">1690.5</text>
<text transform="translate(1892.0,1257.5) scale(1,1.08)" y="13.7">1690.5</text>
<text transform="translate(2172.0,1304.5) scale(1,1.08)" y="13.7">1690.5</text>
<text transform="translate(1542.0,177.5) scale(1,1.08)" y="13.7">1686.8</text>
<text transform="translate(1737.0,187.5) scale(1,1.08)" y="13.7">1687.7</text>
<text transform="translate(1757.0,125.5) scale(1,1.08)" y="13.7">1686.8</text>
<text transform="translate(1907.0,100.5) scale(1,1.08)" y="13.7">1686.8</text>
<text transform="translate(2097.0,92.5) scale(1,1.08)" y="13.7">1686.8</text>
<text transform="translate(2242.0,130.5) scale(1,1.08)" y="13.7">1687.7</text>
<text transform="translate(1652.0,315.5) scale(1,1.08)" y="13.7">1688.7</text>
<text transform="translate(1882.0,294.5) scale(1,1.08)" y="13.7">1688.7</text>
<text transform="translate(2102.0,259.5) scale(1,1.08)" y="13.7">1688.7</text>
<text transform="translate(2257.0,242.5) scale(1,1.08)" y="13.7">1688.7</text>
<text transform="translate(1937.0,625.5) scale(1,1.08)" y="13.7">1689.6</text>
<text transform="translate(2107.0,665.5) scale(1,1.08)" y="13.7">1689.6</text>
<text transform="translate(2267.0,685.5) scale(1,1.08)" y="13.7">1689.6</text>
</g>
<g>
<rect x="85" y="88" width="279" height="848" fill="#fff" stroke="#2e2e2e" stroke-width="3.6"/>
<rect x="86.5" y="89.5" width="276" height="59" fill="#dadada"/>
<rect x="85" y="146.0" width="279" height="5.5" fill="#484848"/>
<rect x="87.5" y="91.5" width="54.0" height="53.0" fill="#04f4f4" stroke="#184040" stroke-width="2.5"/>
<path d="M89.7,118.0L113.4,96.8L113.4,107.4L136.1,107.4L136.1,128.6L113.4,128.6L113.4,139.2Z" fill="#8a0404" stroke="#2a0000" stroke-width="2.5" stroke-linejoin="round"/>
<text transform="translate(149.0,133.9) scale(0.95,1.2)" font-family="'DejaVu Sans Condensed', 'DejaVu Sans', 'Liberation Sans', sans-serif" font-size="39" fill="#202020" stroke="#202020" stroke-width="1.5">T[K]</text>
<rect x="302.2" y="97.0" width="60.8" height="44.0" fill="#5080b0"/>
<rect x="294.2" y="89.0" width="68.8" height="3.5" fill="#d87a28"/>
<rect x="294.2" y="143.0" width="68.8" height="3.5" fill="#d87a28"/>
<text transform="translate(303.7,135.7) scale(0.52,1)" font-family="'Liberation Sans', sans-serif" font-weight="bold" font-size="45.9" fill="#fff">STR</text>
<rect x="105" y="181.0" width="86" height="72.6" fill="#fc0000" stroke="#101810" stroke-width="3.6"/>
<rect x="105" y="253.6" width="86" height="72.6" fill="#ff7600" stroke="#101810" stroke-width="3.6"/>
<rect x="105" y="326.2" width="86" height="72.6" fill="#ffe400" stroke="#101810" stroke-width="3.6"/>
<rect x="105" y="398.8" width="86" height="72.6" fill="#aaff04" stroke="#101810" stroke-width="3.6"/>
<rect x="105" y="471.4" width="86" height="72.6" fill="#44fe04" stroke="#101810" stroke-width="3.6"/>
<rect x="105" y="544.0" width="86" height="72.6" fill="#00fe2a" stroke="#101810" stroke-width="3.6"/>
<rect x="105" y="616.6" width="86" height="72.6" fill="#00ff9e" stroke="#101810" stroke-width="3.6"/>
<rect x="105" y="689.2" width="86" height="72.6" fill="#00e5ff" stroke="#101810" stroke-width="3.6"/>
<rect x="105" y="761.8" width="86" height="72.6" fill="#0069ff" stroke="#101810" stroke-width="3.6"/>
<rect x="105" y="834.4" width="86" height="72.6" fill="#0202fa" stroke="#101810" stroke-width="3.6"/>
<g font-family="'DejaVu Sans Condensed', 'DejaVu Sans', 'Liberation Sans', sans-serif" font-size="39" fill="#101024" stroke="#101024" stroke-width="1.7">
<text transform="translate(225,188.0) scale(1,1.0)" y="14.2">1703.3</text>
<text transform="translate(225,259.7) scale(1,1.0)" y="14.2">1701.4</text>
<text transform="translate(225,331.4) scale(1,1.0)" y="14.2">1699.6</text>
<text transform="translate(225,403.1) scale(1,1.0)" y="14.2">1697.8</text>
<text transform="translate(225,474.8) scale(1,1.0)" y="14.2">1696</text>
<text transform="translate(225,546.5) scale(1,1.0)" y="14.2">1694.1</text>
<text transform="translate(225,618.2) scale(1,1.0)" y="14.2">1692.3</text>
<text transform="translate(225,689.9) scale(1,1.0)" y="14.2">1690.5</text>
<text transform="translate(225,761.6) scale(1,1.0)" y="14.2">1688.7</text>
<text transform="translate(225,833.3) scale(1,1.0)" y="14.2">1686.8</text>
<text transform="translate(225,905.0) scale(1,1.0)" y="14.2">1685</text>
</g></g>
</g>
<text x="1200" y="1516" font-family="'Liberation Serif', serif" font-size="84" text-anchor="middle" fill="#000">(<tspan font-weight="bold">a</tspan>)</text>
<filter id="softb" filterUnits="userSpaceOnUse" x="0" y="1590" width="2386" height="1510"><feGaussianBlur stdDeviation="1.2"/></filter>
<g filter="url(#softb)">
<clipPath id="clb"><path d="M434.0,1728.0L1400.0,1728.0C1405.0,1727.3 1421.7,1725.7 1430.0,1724.0C1438.3,1722.3 1443.3,1721.2 1450.0,1718.0C1456.7,1714.8 1463.3,1710.5 1470.0,1705.0C1476.7,1699.5 1481.7,1690.5 1490.0,1685.0C1498.3,1679.5 1506.7,1676.5 1520.0,1672.0C1533.3,1667.5 1553.3,1662.3 1570.0,1658.0C1586.7,1653.7 1595.0,1650.7 1620.0,1646.0C1645.0,1641.3 1686.7,1634.0 1720.0,1630.0C1753.3,1626.0 1786.7,1624.0 1820.0,1622.0C1853.3,1620.0 1886.7,1618.5 1920.0,1618.0C1953.3,1617.5 1986.7,1618.3 2020.0,1619.0C2053.3,1619.7 2086.7,1620.8 2120.0,1622.0C2153.3,1623.2 2181.3,1624.7 2220.0,1626.0C2258.7,1627.3 2330.0,1629.3 2352.0,1630.0L2352.0,3069.0C2330.0,3068.7 2258.7,3068.0 2220.0,3067.0C2181.3,3066.0 2153.3,3065.2 2120.0,3063.0C2086.7,3060.8 2053.3,3057.5 2020.0,3054.0C1986.7,3050.5 1953.3,3046.5 1920.0,3042.0C1886.7,3037.5 1853.3,3032.2 1820.0,3027.0C1786.7,3021.8 1753.3,3017.2 1720.0,3011.0C1686.7,3004.8 1653.3,2997.7 1620.0,2990.0C1586.7,2982.3 1553.3,2973.3 1520.0,2965.0C1486.7,2956.7 1462.3,2951.7 1420.0,2940.0C1377.7,2928.3 1311.0,2909.2 1266.0,2895.0C1221.0,2880.8 1186.0,2867.8 1150.0,2855.0C1114.0,2842.2 1075.0,2828.0 1050.0,2818.0C1025.0,2808.0 1025.0,2805.5 1000.0,2795.0C975.0,2784.5 930.0,2768.3 900.0,2755.0C870.0,2741.7 843.3,2726.7 820.0,2715.0C796.7,2703.3 783.3,2698.0 760.0,2685.0C736.7,2672.0 701.3,2651.2 680.0,2637.0C658.7,2622.8 647.0,2613.7 632.0,2600.0C617.0,2586.3 604.0,2571.7 590.0,2555.0C576.0,2538.3 560.3,2517.5 548.0,2500.0C535.7,2482.5 525.3,2466.7 516.0,2450.0C506.7,2433.3 499.0,2416.7 492.0,2400.0C485.0,2383.3 479.7,2366.7 474.0,2350.0C468.3,2333.3 462.8,2316.7 458.0,2300.0C453.2,2283.3 448.3,2266.7 445.0,2250.0C441.7,2233.3 439.7,2216.7 438.0,2200.0C436.3,2183.3 435.7,2183.3 435.0,2150.0C434.3,2116.7 434.2,2025.0 434.0,2000.0L434.0,1728.0Z"/></clipPath>
<mask id="mkb" maskUnits="userSpaceOnUse" x="0" y="0" width="2386" height="4856"><rect x="0" y="0" width="2386" height="4856" fill="#fff"/><rect x="490.0" y="1769.4" width="150.1" height="67.3" fill="#000"/><rect x="659.1" y="1739.4" width="111.9" height="67.3" fill="#000"/><rect x="800.0" y="1739.4" width="150.1" height="67.3" fill="#000"/><rect x="1018.0" y="1739.4" width="150.1" height="67.3" fill="#000"/><rect x="503.0" y="1844.4" width="150.1" height="67.3" fill="#000"/><rect x="703.0" y="1828.4" width="150.1" height="67.3" fill="#000"/><rect x="1035.0" y="1814.4" width="150.1" height="67.3" fill="#000"/><rect x="905.0" y="1898.4" width="150.1" height="67.3" fill="#000"/><rect x="1165.0" y="1894.4" width="150.1" height="67.3" fill="#000"/><rect x="522.1" y="1951.4" width="111.9" height="67.3" fill="#000"/><rect x="660.0" y="1936.4" width="150.1" height="67.3" fill="#000"/><rect x="878.0" y="1981.4" width="150.1" height="67.3" fill="#000"/><rect x="1177.0" y="1994.4" width="150.1" height="67.3" fill="#000"/><rect x="605.0" y="2041.4" width="150.1" height="67.3" fill="#000"/><rect x="845.0" y="2069.4" width="150.1" height="67.3" fill="#000"/><rect x="563.0" y="2119.4" width="150.1" height="67.3" fill="#000"/><rect x="800.0" y="2169.4" width="150.1" height="67.3" fill="#000"/><rect x="975.0" y="2171.4" width="150.1" height="67.3" fill="#000"/><rect x="1165.0" y="2141.4" width="150.1" height="67.3" fill="#000"/><rect x="520.0" y="2218.4" width="150.1" height="67.3" fill="#000"/><rect x="760.0" y="2251.4" width="150.1" height="67.3" fill="#000"/><rect x="948.0" y="2251.4" width="150.1" height="67.3" fill="#000"/><rect x="1140.0" y="2273.4" width="150.1" height="67.3" fill="#000"/><rect x="913.0" y="2331.4" width="150.1" height="67.3" fill="#000"/><rect x="573.0" y="2363.4" width="150.1" height="67.3" fill="#000"/><rect x="567.0" y="2443.4" width="150.1" height="67.3" fill="#000"/><rect x="878.0" y="2453.4" width="150.1" height="67.3" fill="#000"/><rect x="1105.0" y="2419.4" width="150.1" height="67.3" fill="#000"/><rect x="1090.0" y="2496.4" width="150.1" height="67.3" fill="#000"/><rect x="695.0" y="2559.4" width="150.1" height="67.3" fill="#000"/><rect x="868.0" y="2629.4" width="150.1" height="67.3" fill="#000"/><rect x="1083.0" y="2588.4" width="150.1" height="67.3" fill="#000"/><rect x="1110.0" y="2694.4" width="150.1" height="67.3" fill="#000"/><rect x="1170.0" y="2784.4" width="150.1" height="67.3" fill="#000"/><rect x="1227.0" y="1781.4" width="150.1" height="67.3" fill="#000"/><rect x="1418.0" y="1731.4" width="150.1" height="67.3" fill="#000"/><rect x="1620.0" y="1731.4" width="150.1" height="67.3" fill="#000"/><rect x="1820.0" y="1723.4" width="150.1" height="67.3" fill="#000"/><rect x="2115.0" y="1744.4" width="150.1" height="67.3" fill="#000"/><rect x="1993.0" y="1658.4" width="150.1" height="67.3" fill="#000"/><rect x="2170.0" y="1663.4" width="150.1" height="67.3" fill="#000"/><rect x="1527.0" y="1834.4" width="150.1" height="67.3" fill="#000"/><rect x="1760.0" y="1878.4" width="150.1" height="67.3" fill="#000"/><rect x="1935.0" y="1914.4" width="150.1" height="67.3" fill="#000"/><rect x="2113.0" y="1946.4" width="150.1" height="67.3" fill="#000"/><rect x="1435.0" y="1918.4" width="150.1" height="67.3" fill="#000"/><rect x="1575.0" y="2069.4" width="150.1" height="67.3" fill="#000"/><rect x="1655.0" y="2146.4" width="150.1" height="67.3" fill="#000"/><rect x="1723.0" y="2246.4" width="150.1" height="67.3" fill="#000"/><rect x="1785.0" y="2329.4" width="150.1" height="67.3" fill="#000"/><rect x="1850.0" y="2421.4" width="150.1" height="67.3" fill="#000"/><rect x="1995.0" y="2569.4" width="150.1" height="67.3" fill="#000"/><rect x="2160.0" y="2651.4" width="150.1" height="67.3" fill="#000"/><rect x="1353.0" y="2119.4" width="150.1" height="67.3" fill="#000"/><rect x="1365.0" y="2198.4" width="150.1" height="67.3" fill="#000"/><rect x="1370.0" y="2278.4" width="150.1" height="67.3" fill="#000"/><rect x="1375.0" y="2358.4" width="150.1" height="67.3" fill="#000"/><rect x="1377.0" y="2438.4" width="150.1" height="67.3" fill="#000"/><rect x="1385.0" y="2528.4" width="150.1" height="67.3" fill="#000"/><rect x="1412.0" y="2676.4" width="150.1" height="67.3" fill="#000"/><rect x="1488.0" y="2794.4" width="150.1" height="67.3" fill="#000"/><rect x="1723.0" y="2936.4" width="150.1" height="67.3" fill="#000"/></mask>
<g clip-path="url(#clb)">
<rect x="300" y="1598" width="2200" height="1491" fill="#fc0000"/>
<path d="M472.0,1728.0C470.8,1740.0 467.8,1779.7 465.0,1800.0C462.2,1820.3 458.3,1833.3 455.0,1850.0C451.7,1866.7 448.7,1885.0 445.0,1900.0C441.3,1915.0 435.0,1933.3 433.0,1940.0L133.0,1940.0L133.0,3389.0L3000.0,3389.0L3000.0,1298.0L472.0,1298.0Z" fill="#ff7600"/>
<path d="M532.0,1728.0C530.0,1740.0 525.3,1776.3 520.0,1800.0C514.7,1823.7 506.7,1849.2 500.0,1870.0C493.3,1890.8 486.7,1907.5 480.0,1925.0C473.3,1942.5 465.8,1959.2 460.0,1975.0C454.2,1990.8 449.5,2007.5 445.0,2020.0C440.5,2032.5 435.0,2045.0 433.0,2050.0L133.0,2050.0L133.0,3389.0L3000.0,3389.0L3000.0,1298.0L532.0,1298.0Z" fill="#ffe400"/>
<path d="M607.0,1728.0C605.8,1740.0 604.5,1776.3 600.0,1800.0C595.5,1823.7 587.5,1849.2 580.0,1870.0C572.5,1890.8 563.3,1906.7 555.0,1925.0C546.7,1943.3 537.5,1963.3 530.0,1980.0C522.5,1996.7 516.7,2008.3 510.0,2025.0C503.3,2041.7 496.7,2062.5 490.0,2080.0C483.3,2097.5 475.8,2114.2 470.0,2130.0C464.2,2145.8 459.7,2160.0 455.0,2175.0C450.3,2190.0 445.7,2208.3 442.0,2220.0C438.3,2231.7 434.5,2240.8 433.0,2245.0L133.0,2245.0L133.0,3389.0L3000.0,3389.0L3000.0,1298.0L607.0,1298.0Z" fill="#aaff04"/>
<path d="M712.0,1728.0C711.7,1740.0 712.8,1777.2 710.0,1800.0C707.2,1822.8 701.7,1842.5 695.0,1865.0C688.3,1887.5 679.2,1913.3 670.0,1935.0C660.8,1956.7 649.2,1976.7 640.0,1995.0C630.8,2013.3 623.3,2027.5 615.0,2045.0C606.7,2062.5 597.8,2085.8 590.0,2100.0C582.2,2114.2 574.7,2120.8 568.0,2130.0C561.3,2139.2 556.0,2143.3 550.0,2155.0C544.0,2166.7 537.7,2184.2 532.0,2200.0C526.3,2215.8 520.3,2233.3 516.0,2250.0C511.7,2266.7 508.2,2283.3 506.0,2300.0C503.8,2316.7 503.3,2333.3 503.0,2350.0C502.7,2366.7 503.2,2386.7 504.0,2400.0C504.8,2413.3 507.3,2425.0 508.0,2430.0L208.0,2430.0L208.0,3389.0L3000.0,3389.0L3000.0,1298.0L712.0,1298.0Z" fill="#44fe04"/>
<path d="M872.0,1728.0C872.5,1735.5 874.5,1761.0 875.0,1773.0C875.5,1785.0 875.8,1784.7 875.0,1800.0C874.2,1815.3 873.3,1844.2 870.0,1865.0C866.7,1885.8 861.7,1904.2 855.0,1925.0C848.3,1945.8 838.3,1969.2 830.0,1990.0C821.7,2010.8 813.3,2031.7 805.0,2050.0C796.7,2068.3 788.3,2083.3 780.0,2100.0C771.7,2116.7 763.3,2133.3 755.0,2150.0C746.7,2166.7 738.3,2181.7 730.0,2200.0C721.7,2218.3 711.7,2243.3 705.0,2260.0C698.3,2276.7 696.7,2283.3 690.0,2300.0C683.3,2316.7 672.0,2341.7 665.0,2360.0C658.0,2378.3 651.8,2390.5 648.0,2410.0C644.2,2429.5 642.0,2458.7 642.0,2477.0C642.0,2495.3 645.0,2502.8 648.0,2520.0C651.0,2537.2 653.8,2559.5 660.0,2580.0C666.2,2600.5 680.8,2632.5 685.0,2643.0L710.0,2943.0L3000.0,3389.0L3000.0,1298.0L872.0,1298.0Z" fill="#00fe2a"/>
<path d="M1095.0,1728.0C1095.3,1735.5 1094.5,1753.0 1097.0,1773.0C1099.5,1793.0 1107.0,1826.8 1110.0,1848.0C1113.0,1869.2 1115.0,1874.7 1115.0,1900.0C1115.0,1925.3 1115.0,1966.7 1110.0,2000.0C1105.0,2033.3 1095.0,2065.8 1085.0,2100.0C1075.0,2134.2 1060.3,2174.2 1050.0,2205.0C1039.7,2235.8 1033.3,2258.3 1023.0,2285.0C1012.7,2311.7 998.5,2337.5 988.0,2365.0C977.5,2392.5 966.7,2429.7 960.0,2450.0C953.3,2470.3 951.7,2473.7 948.0,2487.0C944.3,2500.3 940.2,2511.2 938.0,2530.0C935.8,2548.8 934.2,2577.8 935.0,2600.0C935.8,2622.2 938.8,2644.7 943.0,2663.0C947.2,2681.3 950.5,2692.2 960.0,2710.0C969.5,2727.8 985.2,2751.7 1000.0,2770.0C1014.8,2788.3 1040.8,2811.7 1049.0,2820.0L1098.0,3120.0L3000.0,3389.0L3000.0,1298.0L1095.0,1298.0Z" fill="#00ff9e"/>
<path d="M1240.0,1728.0C1243.3,1733.3 1249.7,1745.5 1260.0,1760.0C1270.3,1774.5 1290.3,1798.3 1302.0,1815.0C1313.7,1831.7 1320.3,1842.5 1330.0,1860.0C1339.7,1877.5 1350.8,1900.0 1360.0,1920.0C1369.2,1940.0 1377.5,1958.3 1385.0,1980.0C1392.5,2001.7 1400.0,2030.0 1405.0,2050.0C1410.0,2070.0 1411.2,2082.8 1415.0,2100.0C1418.8,2117.2 1423.8,2131.0 1428.0,2153.0C1432.2,2175.0 1436.8,2205.5 1440.0,2232.0C1443.2,2258.5 1445.3,2285.3 1447.0,2312.0C1448.7,2338.7 1449.2,2365.3 1450.0,2392.0C1450.8,2418.7 1450.7,2443.7 1452.0,2472.0C1453.3,2500.3 1455.5,2535.7 1458.0,2562.0C1460.5,2588.3 1462.2,2605.3 1467.0,2630.0C1471.8,2654.7 1478.2,2685.8 1487.0,2710.0C1495.8,2734.2 1507.3,2755.3 1520.0,2775.0C1532.7,2794.7 1546.3,2810.5 1563.0,2828.0C1579.7,2845.5 1600.5,2865.5 1620.0,2880.0C1639.5,2894.5 1650.3,2900.0 1680.0,2915.0C1709.7,2930.0 1764.7,2955.8 1798.0,2970.0C1831.3,2984.2 1851.3,2991.7 1880.0,3000.0C1908.7,3008.3 1938.3,3013.3 1970.0,3020.0C2001.7,3026.7 2036.7,3034.0 2070.0,3040.0C2103.3,3046.0 2136.3,3051.2 2170.0,3056.0C2203.7,3060.8 2255.0,3066.8 2272.0,3069.0L2374.0,3369.0L3000.0,3389.0L3000.0,1298.0L1240.0,1298.0Z" fill="#00e5ff"/>
<path d="M1375.0,1728.0C1382.5,1736.7 1405.8,1766.3 1420.0,1780.0C1434.2,1793.7 1443.3,1800.8 1460.0,1810.0C1476.7,1819.2 1496.3,1825.3 1520.0,1835.0C1543.7,1844.7 1575.3,1859.7 1602.0,1868.0C1628.7,1876.3 1655.3,1880.5 1680.0,1885.0C1704.7,1889.5 1724.2,1890.5 1750.0,1895.0C1775.8,1899.5 1806.7,1907.0 1835.0,1912.0C1863.3,1917.0 1890.8,1919.0 1920.0,1925.0C1949.2,1931.0 1981.7,1941.3 2010.0,1948.0C2038.3,1954.7 2060.3,1959.7 2090.0,1965.0C2119.7,1970.3 2158.0,1975.0 2188.0,1980.0C2218.0,1985.0 2242.7,1992.2 2270.0,1995.0C2297.3,1997.8 2338.3,1996.7 2352.0,1997.0L3000.0,1997.0L3000.0,1298.0L1375.0,1298.0Z" fill="#0069ff"/>
<path d="M1445.0,1724.0C1450.8,1722.7 1457.5,1718.5 1480.0,1716.0C1502.5,1713.5 1549.5,1712.8 1580.0,1709.0C1610.5,1705.2 1635.2,1697.2 1663.0,1693.0C1690.8,1688.8 1712.2,1686.7 1747.0,1684.0C1781.8,1681.3 1830.3,1678.2 1872.0,1677.0C1913.7,1675.8 1964.5,1675.5 1997.0,1677.0C2029.5,1678.5 2025.3,1683.5 2067.0,1686.0C2108.7,1688.5 2199.5,1691.3 2247.0,1692.0C2294.5,1692.7 2334.5,1690.3 2352.0,1690.0L3000.0,1690.0L3000.0,1298.0L1445.0,1298.0Z" fill="#0202fa"/>
</g>
<g clip-path="url(#clb)"><g mask="url(#mkb)" fill="none" stroke="#000" stroke-width="5.0" stroke-opacity="0.8">
<path d="M455.0,1728.0C454.2,1740.0 452.5,1774.7 450.0,1800.0C447.5,1825.3 442.7,1860.0 440.0,1880.0C437.3,1900.0 435.0,1913.3 434.0,1920.0"/>
<path d="M472.0,1728.0C470.8,1740.0 467.8,1779.7 465.0,1800.0C462.2,1820.3 458.3,1833.3 455.0,1850.0C451.7,1866.7 448.7,1885.0 445.0,1900.0C441.3,1915.0 435.0,1933.3 433.0,1940.0"/>
<path d="M500.0,1728.0C498.3,1740.0 494.2,1778.0 490.0,1800.0C485.8,1822.0 480.0,1840.0 475.0,1860.0C470.0,1880.0 465.0,1901.7 460.0,1920.0C455.0,1938.3 449.3,1956.7 445.0,1970.0C440.7,1983.3 435.8,1995.0 434.0,2000.0"/>
<path d="M532.0,1728.0C530.0,1740.0 525.3,1776.3 520.0,1800.0C514.7,1823.7 506.7,1849.2 500.0,1870.0C493.3,1890.8 486.7,1907.5 480.0,1925.0C473.3,1942.5 465.8,1959.2 460.0,1975.0C454.2,1990.8 449.5,2007.5 445.0,2020.0C440.5,2032.5 435.0,2045.0 433.0,2050.0"/>
<path d="M568.0,1728.0C567.5,1740.5 568.8,1777.7 565.0,1803.0C561.2,1828.3 552.5,1855.5 545.0,1880.0C537.5,1904.5 528.3,1926.7 520.0,1950.0C511.7,1973.3 503.3,1996.7 495.0,2020.0C486.7,2043.3 477.5,2068.3 470.0,2090.0C462.5,2111.7 455.8,2131.7 450.0,2150.0C444.2,2168.3 437.5,2191.7 435.0,2200.0"/>
<path d="M607.0,1728.0C605.8,1740.0 604.5,1776.3 600.0,1800.0C595.5,1823.7 587.5,1849.2 580.0,1870.0C572.5,1890.8 563.3,1906.7 555.0,1925.0C546.7,1943.3 537.5,1963.3 530.0,1980.0C522.5,1996.7 516.7,2008.3 510.0,2025.0C503.3,2041.7 496.7,2062.5 490.0,2080.0C483.3,2097.5 475.8,2114.2 470.0,2130.0C464.2,2145.8 459.7,2160.0 455.0,2175.0C450.3,2190.0 445.7,2208.3 442.0,2220.0C438.3,2231.7 434.5,2240.8 433.0,2245.0"/>
<path d="M655.0,1728.0C654.5,1740.0 654.5,1776.3 652.0,1800.0C649.5,1823.7 646.2,1848.3 640.0,1870.0C633.8,1891.7 625.3,1910.8 615.0,1930.0C604.7,1949.2 589.7,1965.0 578.0,1985.0C566.3,2005.0 554.7,2029.2 545.0,2050.0C535.3,2070.8 527.5,2093.3 520.0,2110.0C512.5,2126.7 506.7,2135.0 500.0,2150.0C493.3,2165.0 485.0,2183.3 480.0,2200.0C475.0,2216.7 472.3,2233.3 470.0,2250.0C467.7,2266.7 466.3,2285.8 466.0,2300.0C465.7,2314.2 467.7,2329.2 468.0,2335.0"/>
<path d="M712.0,1728.0C711.7,1740.0 712.8,1777.2 710.0,1800.0C707.2,1822.8 701.7,1842.5 695.0,1865.0C688.3,1887.5 679.2,1913.3 670.0,1935.0C660.8,1956.7 649.2,1976.7 640.0,1995.0C630.8,2013.3 623.3,2027.5 615.0,2045.0C606.7,2062.5 597.8,2085.8 590.0,2100.0C582.2,2114.2 574.7,2120.8 568.0,2130.0C561.3,2139.2 556.0,2143.3 550.0,2155.0C544.0,2166.7 537.7,2184.2 532.0,2200.0C526.3,2215.8 520.3,2233.3 516.0,2250.0C511.7,2266.7 508.2,2283.3 506.0,2300.0C503.8,2316.7 503.3,2333.3 503.0,2350.0C502.7,2366.7 503.2,2386.7 504.0,2400.0C504.8,2413.3 507.3,2425.0 508.0,2430.0"/>
<path d="M787.0,1728.0C787.0,1740.0 788.5,1777.7 787.0,1800.0C785.5,1822.3 782.5,1843.7 778.0,1862.0C773.5,1880.3 767.2,1892.0 760.0,1910.0C752.8,1928.0 743.3,1951.7 735.0,1970.0C726.7,1988.3 719.2,2002.5 710.0,2020.0C700.8,2037.5 692.0,2052.8 680.0,2075.0C668.0,2097.2 648.8,2132.2 638.0,2153.0C627.2,2173.8 622.2,2183.5 615.0,2200.0C607.8,2216.5 601.7,2235.3 595.0,2252.0C588.3,2268.7 580.0,2282.0 575.0,2300.0C570.0,2318.0 567.5,2338.3 565.0,2360.0C562.5,2381.7 560.0,2408.3 560.0,2430.0C560.0,2451.7 562.2,2472.5 565.0,2490.0C567.8,2507.5 575.0,2527.5 577.0,2535.0"/>
<path d="M872.0,1728.0C872.5,1735.5 874.5,1761.0 875.0,1773.0C875.5,1785.0 875.8,1784.7 875.0,1800.0C874.2,1815.3 873.3,1844.2 870.0,1865.0C866.7,1885.8 861.7,1904.2 855.0,1925.0C848.3,1945.8 838.3,1969.2 830.0,1990.0C821.7,2010.8 813.3,2031.7 805.0,2050.0C796.7,2068.3 788.3,2083.3 780.0,2100.0C771.7,2116.7 763.3,2133.3 755.0,2150.0C746.7,2166.7 738.3,2181.7 730.0,2200.0C721.7,2218.3 711.7,2243.3 705.0,2260.0C698.3,2276.7 696.7,2283.3 690.0,2300.0C683.3,2316.7 672.0,2341.7 665.0,2360.0C658.0,2378.3 651.8,2390.5 648.0,2410.0C644.2,2429.5 642.0,2458.7 642.0,2477.0C642.0,2495.3 645.0,2502.8 648.0,2520.0C651.0,2537.2 653.8,2559.5 660.0,2580.0C666.2,2600.5 680.8,2632.5 685.0,2643.0"/>
<path d="M985.0,1728.0C985.5,1740.0 987.5,1773.0 988.0,1800.0C988.5,1827.0 989.3,1868.0 988.0,1890.0C986.7,1912.0 985.8,1911.2 980.0,1932.0C974.2,1952.8 963.0,1986.5 953.0,2015.0C943.0,2043.5 929.7,2080.5 920.0,2103.0C910.3,2125.5 902.5,2133.3 895.0,2150.0C887.5,2166.7 885.0,2180.5 875.0,2203.0C865.0,2225.5 845.8,2262.2 835.0,2285.0C824.2,2307.8 817.5,2320.8 810.0,2340.0C802.5,2359.2 795.8,2378.3 790.0,2400.0C784.2,2421.7 779.2,2445.0 775.0,2470.0C770.8,2495.0 765.8,2529.5 765.0,2550.0C764.2,2570.5 766.7,2578.0 770.0,2593.0C773.3,2608.0 779.2,2623.8 785.0,2640.0C790.8,2656.2 798.5,2676.7 805.0,2690.0C811.5,2703.3 820.8,2715.0 824.0,2720.0"/>
<path d="M1095.0,1728.0C1095.3,1735.5 1094.5,1753.0 1097.0,1773.0C1099.5,1793.0 1107.0,1826.8 1110.0,1848.0C1113.0,1869.2 1115.0,1874.7 1115.0,1900.0C1115.0,1925.3 1115.0,1966.7 1110.0,2000.0C1105.0,2033.3 1095.0,2065.8 1085.0,2100.0C1075.0,2134.2 1060.3,2174.2 1050.0,2205.0C1039.7,2235.8 1033.3,2258.3 1023.0,2285.0C1012.7,2311.7 998.5,2337.5 988.0,2365.0C977.5,2392.5 966.7,2429.7 960.0,2450.0C953.3,2470.3 951.7,2473.7 948.0,2487.0C944.3,2500.3 940.2,2511.2 938.0,2530.0C935.8,2548.8 934.2,2577.8 935.0,2600.0C935.8,2622.2 938.8,2644.7 943.0,2663.0C947.2,2681.3 950.5,2692.2 960.0,2710.0C969.5,2727.8 985.2,2751.7 1000.0,2770.0C1014.8,2788.3 1040.8,2811.7 1049.0,2820.0"/>
<path d="M1170.0,1728.0C1174.2,1736.7 1187.5,1761.3 1195.0,1780.0C1202.5,1798.7 1209.5,1821.7 1215.0,1840.0C1220.5,1858.3 1223.8,1875.3 1228.0,1890.0C1232.2,1904.7 1236.7,1913.8 1240.0,1928.0C1243.3,1942.2 1246.0,1958.3 1248.0,1975.0C1250.0,1991.7 1251.7,2010.5 1252.0,2028.0C1252.3,2045.5 1251.3,2061.3 1250.0,2080.0C1248.7,2098.7 1245.7,2124.2 1244.0,2140.0C1242.3,2155.8 1242.0,2160.0 1240.0,2175.0C1238.0,2190.0 1234.5,2215.8 1232.0,2230.0C1229.5,2244.2 1227.8,2247.2 1225.0,2260.0C1222.2,2272.8 1219.2,2290.3 1215.0,2307.0C1210.8,2323.7 1204.2,2342.8 1200.0,2360.0C1195.8,2377.2 1193.3,2394.5 1190.0,2410.0C1186.7,2425.5 1184.2,2433.0 1180.0,2453.0C1175.8,2473.0 1168.7,2501.8 1165.0,2530.0C1161.3,2558.2 1154.7,2589.0 1158.0,2622.0C1161.3,2655.0 1170.5,2695.3 1185.0,2728.0C1199.5,2760.7 1228.3,2796.8 1245.0,2818.0C1261.7,2839.2 1270.0,2842.2 1285.0,2855.0C1300.0,2867.8 1318.0,2882.2 1335.0,2895.0C1352.0,2907.8 1378.3,2925.8 1387.0,2932.0"/>
<path d="M1240.0,1728.0C1243.3,1733.3 1249.7,1745.5 1260.0,1760.0C1270.3,1774.5 1290.3,1798.3 1302.0,1815.0C1313.7,1831.7 1320.3,1842.5 1330.0,1860.0C1339.7,1877.5 1350.8,1900.0 1360.0,1920.0C1369.2,1940.0 1377.5,1958.3 1385.0,1980.0C1392.5,2001.7 1400.0,2030.0 1405.0,2050.0C1410.0,2070.0 1411.2,2082.8 1415.0,2100.0C1418.8,2117.2 1423.8,2131.0 1428.0,2153.0C1432.2,2175.0 1436.8,2205.5 1440.0,2232.0C1443.2,2258.5 1445.3,2285.3 1447.0,2312.0C1448.7,2338.7 1449.2,2365.3 1450.0,2392.0C1450.8,2418.7 1450.7,2443.7 1452.0,2472.0C1453.3,2500.3 1455.5,2535.7 1458.0,2562.0C1460.5,2588.3 1462.2,2605.3 1467.0,2630.0C1471.8,2654.7 1478.2,2685.8 1487.0,2710.0C1495.8,2734.2 1507.3,2755.3 1520.0,2775.0C1532.7,2794.7 1546.3,2810.5 1563.0,2828.0C1579.7,2845.5 1600.5,2865.5 1620.0,2880.0C1639.5,2894.5 1650.3,2900.0 1680.0,2915.0C1709.7,2930.0 1764.7,2955.8 1798.0,2970.0C1831.3,2984.2 1851.3,2991.7 1880.0,3000.0C1908.7,3008.3 1938.3,3013.3 1970.0,3020.0C2001.7,3026.7 2036.7,3034.0 2070.0,3040.0C2103.3,3046.0 2136.3,3051.2 2170.0,3056.0C2203.7,3060.8 2255.0,3066.8 2272.0,3069.0"/>
<path d="M1310.0,1728.0C1314.2,1732.5 1324.2,1742.2 1335.0,1755.0C1345.8,1767.8 1360.8,1789.2 1375.0,1805.0C1389.2,1820.8 1404.2,1833.3 1420.0,1850.0C1435.8,1866.7 1455.0,1888.0 1470.0,1905.0C1485.0,1922.0 1496.7,1936.2 1510.0,1952.0C1523.3,1967.8 1532.5,1982.0 1550.0,2000.0C1567.5,2018.0 1598.3,2042.8 1615.0,2060.0C1631.7,2077.2 1630.8,2083.0 1650.0,2103.0C1669.2,2123.0 1711.7,2158.8 1730.0,2180.0C1748.3,2201.2 1748.7,2213.3 1760.0,2230.0C1771.3,2246.7 1781.3,2257.8 1798.0,2280.0C1814.7,2302.2 1844.7,2341.3 1860.0,2363.0C1875.3,2384.7 1879.2,2394.7 1890.0,2410.0C1900.8,2425.3 1913.3,2440.0 1925.0,2455.0C1936.7,2470.0 1943.3,2481.7 1960.0,2500.0C1976.7,2518.3 2006.7,2547.8 2025.0,2565.0C2043.3,2582.2 2054.2,2590.5 2070.0,2603.0C2085.8,2615.5 2105.0,2630.2 2120.0,2640.0C2135.0,2649.8 2140.8,2654.5 2160.0,2662.0C2179.2,2669.5 2210.8,2678.7 2235.0,2685.0C2259.2,2691.3 2285.5,2697.5 2305.0,2700.0C2324.5,2702.5 2344.2,2700.0 2352.0,2700.0"/>
<path d="M1375.0,1728.0C1382.5,1736.7 1405.8,1766.3 1420.0,1780.0C1434.2,1793.7 1443.3,1800.8 1460.0,1810.0C1476.7,1819.2 1496.3,1825.3 1520.0,1835.0C1543.7,1844.7 1575.3,1859.7 1602.0,1868.0C1628.7,1876.3 1655.3,1880.5 1680.0,1885.0C1704.7,1889.5 1724.2,1890.5 1750.0,1895.0C1775.8,1899.5 1806.7,1907.0 1835.0,1912.0C1863.3,1917.0 1890.8,1919.0 1920.0,1925.0C1949.2,1931.0 1981.7,1941.3 2010.0,1948.0C2038.3,1954.7 2060.3,1959.7 2090.0,1965.0C2119.7,1970.3 2158.0,1975.0 2188.0,1980.0C2218.0,1985.0 2242.7,1992.2 2270.0,1995.0C2297.3,1997.8 2338.3,1996.7 2352.0,1997.0"/>
<path d="M1440.0,1745.0C1448.8,1748.3 1473.0,1760.5 1493.0,1765.0C1513.0,1769.5 1538.0,1770.8 1560.0,1772.0C1582.0,1773.2 1602.5,1773.2 1625.0,1772.0C1647.5,1770.8 1671.7,1766.2 1695.0,1765.0C1718.3,1763.8 1743.3,1765.8 1765.0,1765.0C1786.7,1764.2 1803.3,1761.3 1825.0,1760.0C1846.7,1758.7 1871.7,1757.0 1895.0,1757.0C1918.3,1757.0 1937.5,1758.7 1965.0,1760.0C1992.5,1761.3 2034.2,1762.5 2060.0,1765.0C2085.8,1767.5 2098.3,1772.8 2120.0,1775.0C2141.7,1777.2 2166.7,1777.2 2190.0,1778.0C2213.3,1778.8 2233.0,1779.7 2260.0,1780.0C2287.0,1780.3 2336.7,1780.0 2352.0,1780.0"/>
<path d="M1445.0,1724.0C1450.8,1722.7 1457.5,1718.5 1480.0,1716.0C1502.5,1713.5 1549.5,1712.8 1580.0,1709.0C1610.5,1705.2 1635.2,1697.2 1663.0,1693.0C1690.8,1688.8 1712.2,1686.7 1747.0,1684.0C1781.8,1681.3 1830.3,1678.2 1872.0,1677.0C1913.7,1675.8 1964.5,1675.5 1997.0,1677.0C2029.5,1678.5 2025.3,1683.5 2067.0,1686.0C2108.7,1688.5 2199.5,1691.3 2247.0,1692.0C2294.5,1692.7 2334.5,1690.3 2352.0,1690.0"/>
</g></g>
<path d="M1505.0,1732.0L1625.0,2582.0L2352.0,2582.0" fill="none" stroke="#088aa6" stroke-opacity="0.9" stroke-width="7"/>
<path d="M434.0,1728.0L1400.0,1728.0C1405.0,1727.3 1421.7,1725.7 1430.0,1724.0C1438.3,1722.3 1443.3,1721.2 1450.0,1718.0C1456.7,1714.8 1463.3,1710.5 1470.0,1705.0C1476.7,1699.5 1481.7,1690.5 1490.0,1685.0C1498.3,1679.5 1506.7,1676.5 1520.0,1672.0C1533.3,1667.5 1553.3,1662.3 1570.0,1658.0C1586.7,1653.7 1595.0,1650.7 1620.0,1646.0C1645.0,1641.3 1686.7,1634.0 1720.0,1630.0C1753.3,1626.0 1786.7,1624.0 1820.0,1622.0C1853.3,1620.0 1886.7,1618.5 1920.0,1618.0C1953.3,1617.5 1986.7,1618.3 2020.0,1619.0C2053.3,1619.7 2086.7,1620.8 2120.0,1622.0C2153.3,1623.2 2181.3,1624.7 2220.0,1626.0C2258.7,1627.3 2330.0,1629.3 2352.0,1630.0" fill="none" stroke="#000" stroke-width="7"/>
<path d="M1490.0,1685.0C1495.0,1682.8 1506.7,1676.5 1520.0,1672.0C1533.3,1667.5 1553.3,1662.3 1570.0,1658.0C1586.7,1653.7 1595.0,1650.7 1620.0,1646.0C1645.0,1641.3 1686.7,1634.0 1720.0,1630.0C1753.3,1626.0 1786.7,1624.0 1820.0,1622.0C1853.3,1620.0 1886.7,1618.5 1920.0,1618.0C1953.3,1617.5 1986.7,1618.3 2020.0,1619.0C2053.3,1619.7 2086.7,1620.8 2120.0,1622.0C2153.3,1623.2 2181.3,1624.7 2220.0,1626.0C2258.7,1627.3 2330.0,1629.3 2352.0,1630.0" fill="none" stroke="#000" stroke-width="8" transform="translate(0,2.0)"/>
<path d="M1497.0,1701.0C1510.8,1697.5 1545.3,1687.3 1580.0,1680.0C1614.7,1672.7 1660.5,1662.8 1705.0,1657.0C1749.5,1651.2 1798.3,1647.5 1847.0,1645.0C1895.7,1642.5 1951.2,1641.7 1997.0,1642.0C2042.8,1642.3 2062.8,1644.8 2122.0,1647.0C2181.2,1649.2 2313.7,1653.7 2352.0,1655.0" fill="none" stroke="#000010" stroke-width="5.0"/>
<path d="M434.0,1728.0L434.0,2000.0C434.2,2025.0 434.3,2116.7 435.0,2150.0C435.7,2183.3 436.3,2183.3 438.0,2200.0C439.7,2216.7 441.7,2233.3 445.0,2250.0C448.3,2266.7 453.2,2283.3 458.0,2300.0C462.8,2316.7 468.3,2333.3 474.0,2350.0C479.7,2366.7 485.0,2383.3 492.0,2400.0C499.0,2416.7 506.7,2433.3 516.0,2450.0C525.3,2466.7 535.7,2482.5 548.0,2500.0C560.3,2517.5 576.0,2538.3 590.0,2555.0C604.0,2571.7 617.0,2586.3 632.0,2600.0C647.0,2613.7 658.7,2622.8 680.0,2637.0C701.3,2651.2 736.7,2672.0 760.0,2685.0C783.3,2698.0 796.7,2703.3 820.0,2715.0C843.3,2726.7 870.0,2741.7 900.0,2755.0C930.0,2768.3 975.0,2784.5 1000.0,2795.0C1025.0,2805.5 1025.0,2808.0 1050.0,2818.0C1075.0,2828.0 1114.0,2842.2 1150.0,2855.0C1186.0,2867.8 1221.0,2880.8 1266.0,2895.0C1311.0,2909.2 1377.7,2928.3 1420.0,2940.0C1462.3,2951.7 1486.7,2956.7 1520.0,2965.0C1553.3,2973.3 1586.7,2982.3 1620.0,2990.0C1653.3,2997.7 1686.7,3004.8 1720.0,3011.0C1753.3,3017.2 1786.7,3021.8 1820.0,3027.0C1853.3,3032.2 1886.7,3037.5 1920.0,3042.0C1953.3,3046.5 1986.7,3050.5 2020.0,3054.0C2053.3,3057.5 2086.7,3060.8 2120.0,3063.0C2153.3,3065.2 2181.3,3066.0 2220.0,3067.0C2258.7,3068.0 2330.0,3068.7 2352.0,3069.0" fill="none" stroke="#000" stroke-width="6.5" stroke-linejoin="round"/>
<path d="M680.0,2637.0C693.3,2645.0 736.7,2672.0 760.0,2685.0C783.3,2698.0 796.7,2703.3 820.0,2715.0C843.3,2726.7 870.0,2741.7 900.0,2755.0C930.0,2768.3 975.0,2784.5 1000.0,2795.0C1025.0,2805.5 1025.0,2808.0 1050.0,2818.0C1075.0,2828.0 1114.0,2842.2 1150.0,2855.0C1186.0,2867.8 1221.0,2880.8 1266.0,2895.0C1311.0,2909.2 1377.7,2928.3 1420.0,2940.0C1462.3,2951.7 1486.7,2956.7 1520.0,2965.0C1553.3,2973.3 1586.7,2982.3 1620.0,2990.0C1653.3,2997.7 1686.7,3004.8 1720.0,3011.0C1753.3,3017.2 1786.7,3021.8 1820.0,3027.0C1853.3,3032.2 1886.7,3037.5 1920.0,3042.0C1953.3,3046.5 1986.7,3050.5 2020.0,3054.0C2053.3,3057.5 2086.7,3060.8 2120.0,3063.0C2153.3,3065.2 2181.3,3066.0 2220.0,3067.0C2258.7,3068.0 2330.0,3068.7 2352.0,3069.0" fill="none" stroke="#000" stroke-width="7.5" transform="translate(0,-1)"/>
<g font-family="'Liberation Sans', sans-serif" font-size="45.8" fill="#000" text-anchor="middle" stroke="#000" stroke-width="2.4" stroke-linejoin="round" opacity="0.72">
<text transform="translate(565.0,1799.5) scale(1,1.1)" y="16.4">1698.8</text>
<text transform="translate(715.0,1769.5) scale(1,1.1)" y="16.4">1696</text>
<text transform="translate(875.0,1769.5) scale(1,1.1)" y="16.4">1694.2</text>
<text transform="translate(1093.0,1769.5) scale(1,1.1)" y="16.4">1692.4</text>
<text transform="translate(578.0,1874.5) scale(1,1.1)" y="16.4">1697.9</text>
<text transform="translate(778.0,1858.5) scale(1,1.1)" y="16.4">1695.1</text>
<text transform="translate(1110.0,1844.5) scale(1,1.1)" y="16.4">1692.4</text>
<text transform="translate(980.0,1928.5) scale(1,1.1)" y="16.4">1693.3</text>
<text transform="translate(1240.0,1924.5) scale(1,1.1)" y="16.4">1691.4</text>
<text transform="translate(578.0,1981.5) scale(1,1.1)" y="16.4">1697</text>
<text transform="translate(735.0,1966.5) scale(1,1.1)" y="16.4">1695.1</text>
<text transform="translate(953.0,2011.5) scale(1,1.1)" y="16.4">1693.3</text>
<text transform="translate(1252.0,2024.5) scale(1,1.1)" y="16.4">1691.4</text>
<text transform="translate(680.0,2071.5) scale(1,1.1)" y="16.4">1695.1</text>
<text transform="translate(920.0,2099.5) scale(1,1.1)" y="16.4">1693.3</text>
<text transform="translate(638.0,2149.5) scale(1,1.1)" y="16.4">1695.1</text>
<text transform="translate(875.0,2199.5) scale(1,1.1)" y="16.4">1693.3</text>
<text transform="translate(1050.0,2201.5) scale(1,1.1)" y="16.4">1692.4</text>
<text transform="translate(1240.0,2171.5) scale(1,1.1)" y="16.4">1691.4</text>
<text transform="translate(595.0,2248.5) scale(1,1.1)" y="16.4">1695.1</text>
<text transform="translate(835.0,2281.5) scale(1,1.1)" y="16.4">1693.3</text>
<text transform="translate(1023.0,2281.5) scale(1,1.1)" y="16.4">1692.4</text>
<text transform="translate(1215.0,2303.5) scale(1,1.1)" y="16.4">1691.4</text>
<text transform="translate(988.0,2361.5) scale(1,1.1)" y="16.4">1692.4</text>
<text transform="translate(648.0,2393.5) scale(1,1.1)" y="16.4">1694.2</text>
<text transform="translate(642.0,2473.5) scale(1,1.1)" y="16.4">1694.2</text>
<text transform="translate(953.0,2483.5) scale(1,1.1)" y="16.4">1692.4</text>
<text transform="translate(1180.0,2449.5) scale(1,1.1)" y="16.4">1691.4</text>
<text transform="translate(1165.0,2526.5) scale(1,1.1)" y="16.4">1691.4</text>
<text transform="translate(770.0,2589.5) scale(1,1.1)" y="16.4">1693.3</text>
<text transform="translate(943.0,2659.5) scale(1,1.1)" y="16.4">1692.4</text>
<text transform="translate(1158.0,2618.5) scale(1,1.1)" y="16.4">1691.4</text>
<text transform="translate(1185.0,2724.5) scale(1,1.1)" y="16.4">1691.4</text>
<text transform="translate(1245.0,2814.5) scale(1,1.1)" y="16.4">1691.4</text>
<text transform="translate(1302.0,1811.5) scale(1,1.1)" y="16.4">1690.5</text>
<text transform="translate(1493.0,1761.5) scale(1,1.1)" y="16.4">1687.8</text>
<text transform="translate(1695.0,1761.5) scale(1,1.1)" y="16.4">1687.8</text>
<text transform="translate(1895.0,1753.5) scale(1,1.1)" y="16.4">1687.8</text>
<text transform="translate(2190.0,1774.5) scale(1,1.1)" y="16.4">1687.8</text>
<text transform="translate(2068.0,1688.5) scale(1,1.1)" y="16.4">1686.8</text>
<text transform="translate(2245.0,1693.5) scale(1,1.1)" y="16.4">1686.8</text>
<text transform="translate(1602.0,1864.5) scale(1,1.1)" y="16.4">1688.7</text>
<text transform="translate(1835.0,1908.5) scale(1,1.1)" y="16.4">1688.7</text>
<text transform="translate(2010.0,1944.5) scale(1,1.1)" y="16.4">1688.7</text>
<text transform="translate(2188.0,1976.5) scale(1,1.1)" y="16.4">1688.7</text>
<text transform="translate(1510.0,1948.5) scale(1,1.1)" y="16.4">1689.6</text>
<text transform="translate(1650.0,2099.5) scale(1,1.1)" y="16.4">1689.6</text>
<text transform="translate(1730.0,2176.5) scale(1,1.1)" y="16.4">1689.6</text>
<text transform="translate(1798.0,2276.5) scale(1,1.1)" y="16.4">1689.6</text>
<text transform="translate(1860.0,2359.5) scale(1,1.1)" y="16.4">1689.6</text>
<text transform="translate(1925.0,2451.5) scale(1,1.1)" y="16.4">1689.6</text>
<text transform="translate(2070.0,2599.5) scale(1,1.1)" y="16.4">1689.6</text>
<text transform="translate(2235.0,2681.5) scale(1,1.1)" y="16.4">1689.6</text>
<text transform="translate(1428.0,2149.5) scale(1,1.1)" y="16.4">1690.5</text>
<text transform="translate(1440.0,2228.5) scale(1,1.1)" y="16.4">1690.5</text>
<text transform="translate(1445.0,2308.5) scale(1,1.1)" y="16.4">1690.5</text>
<text transform="translate(1450.0,2388.5) scale(1,1.1)" y="16.4">1690.5</text>
<text transform="translate(1452.0,2468.5) scale(1,1.1)" y="16.4">1690.5</text>
<text transform="translate(1460.0,2558.5) scale(1,1.1)" y="16.4">1690.5</text>
<text transform="translate(1487.0,2706.5) scale(1,1.1)" y="16.4">1690.5</text>
<text transform="translate(1563.0,2824.5) scale(1,1.1)" y="16.4">1690.5</text>
<text transform="translate(1798.0,2966.5) scale(1,1.1)" y="16.4">1690.5</text>
</g>
<g>
<rect x="77.5" y="1626" width="287.5" height="960" fill="#fff" stroke="#2e2e2e" stroke-width="3.6"/>
<rect x="79.0" y="1627.5" width="284.5" height="72" fill="#dadada"/>
<rect x="77.5" y="1697.0" width="287.5" height="5.5" fill="#484848"/>
<rect x="80.0" y="1629.5" width="54.0" height="66.0" fill="#04f4f4" stroke="#184040" stroke-width="2.5"/>
<path d="M82.2,1662.5L105.9,1636.1L105.9,1649.3L128.6,1649.3L128.6,1675.7L105.9,1675.7L105.9,1688.9Z" fill="#8a0404" stroke="#2a0000" stroke-width="2.5" stroke-linejoin="round"/>
<text transform="translate(141.5,1681.5) scale(0.95,1.2)" font-family="'DejaVu Sans Condensed', 'DejaVu Sans', 'Liberation Sans', sans-serif" font-size="40" fill="#202020" stroke="#202020" stroke-width="1.5">T[K]</text>
<rect x="301.3" y="1635.0" width="62.7" height="57.0" fill="#5080b0"/>
<rect x="293.3" y="1627.0" width="70.7" height="3.5" fill="#d87a28"/>
<rect x="293.3" y="1694.0" width="70.7" height="3.5" fill="#d87a28"/>
<text transform="translate(302.8,1683.8) scale(0.52,1)" font-family="'Liberation Sans', sans-serif" font-weight="bold" font-size="55.5" fill="#fff">STR</text>
<rect x="98" y="1734.0" width="89.5" height="82.0" fill="#fc0000" stroke="#101810" stroke-width="3.6"/>
<rect x="98" y="1816.0" width="89.5" height="82.0" fill="#ff7600" stroke="#101810" stroke-width="3.6"/>
<rect x="98" y="1898.0" width="89.5" height="82.0" fill="#ffe400" stroke="#101810" stroke-width="3.6"/>
<rect x="98" y="1980.0" width="89.5" height="82.0" fill="#aaff04" stroke="#101810" stroke-width="3.6"/>
<rect x="98" y="2062.0" width="89.5" height="82.0" fill="#44fe04" stroke="#101810" stroke-width="3.6"/>
<rect x="98" y="2144.0" width="89.5" height="82.0" fill="#00fe2a" stroke="#101810" stroke-width="3.6"/>
<rect x="98" y="2226.0" width="89.5" height="82.0" fill="#00ff9e" stroke="#101810" stroke-width="3.6"/>
<rect x="98" y="2308.0" width="89.5" height="82.0" fill="#00e5ff" stroke="#101810" stroke-width="3.6"/>
<rect x="98" y="2390.0" width="89.5" height="82.0" fill="#0069ff" stroke="#101810" stroke-width="3.6"/>
<rect x="98" y="2472.0" width="89.5" height="82.0" fill="#0202fa" stroke="#101810" stroke-width="3.6"/>
<g font-family="'DejaVu Sans Condensed', 'DejaVu Sans', 'Liberation Sans', sans-serif" font-size="40" fill="#101024" stroke="#101024" stroke-width="1.7">
<text transform="translate(222,1743.0) scale(1,1.12)" y="14.6">1703.3</text>
<text transform="translate(222,1823.7) scale(1,1.12)" y="14.6">1701.4</text>
<text transform="translate(222,1904.4) scale(1,1.12)" y="14.6">1699.6</text>
<text transform="translate(222,1985.1) scale(1,1.12)" y="14.6">1697.8</text>
<text transform="translate(222,2065.8) scale(1,1.12)" y="14.6">1696</text>
<text transform="translate(222,2146.5) scale(1,1.12)" y="14.6">1694.1</text>
<text transform="translate(222,2227.2) scale(1,1.12)" y="14.6">1692.3</text>
<text transform="translate(222,2307.9) scale(1,1.12)" y="14.6">1690.5</text>
<text transform="translate(222,2388.6) scale(1,1.12)" y="14.6">1688.7</text>
<text transform="translate(222,2469.3) scale(1,1.12)" y="14.6">1686.8</text>
<text transform="translate(222,2550.0) scale(1,1.12)" y="14.6">1685</text>
</g></g>
</g>
<text x="1201" y="3205" font-family="'Liberation Serif', serif" font-size="84" text-anchor="middle" fill="#000">(<tspan font-weight="bold">b</tspan>)</text>
<filter id="softc" filterUnits="userSpaceOnUse" x="0" y="3280" width="2386" height="1470"><feGaussianBlur stdDeviation="1.2"/></filter>
<g filter="url(#softc)">
<clipPath id="clc"><path d="M392.0,3402.0L1370.0,3402.0C1375.0,3401.5 1391.7,3400.2 1400.0,3399.0C1408.3,3397.8 1411.7,3398.2 1420.0,3395.0C1428.3,3391.8 1441.7,3385.8 1450.0,3380.0C1458.3,3374.2 1461.7,3365.3 1470.0,3360.0C1478.3,3354.7 1488.3,3351.3 1500.0,3348.0C1511.7,3344.7 1520.0,3343.8 1540.0,3340.0C1560.0,3336.2 1590.0,3329.3 1620.0,3325.0C1650.0,3320.7 1686.7,3316.3 1720.0,3314.0C1753.3,3311.7 1786.7,3311.3 1820.0,3311.0C1853.3,3310.7 1886.7,3310.7 1920.0,3312.0C1953.3,3313.3 1986.7,3316.3 2020.0,3319.0C2053.3,3321.7 2086.7,3325.0 2120.0,3328.0C2153.3,3331.0 2180.8,3334.0 2220.0,3337.0C2259.2,3340.0 2332.5,3344.5 2355.0,3346.0L2355.0,4722.0C2332.5,4721.5 2259.2,4720.3 2220.0,4719.0C2180.8,4717.7 2153.3,4716.2 2120.0,4714.0C2086.7,4711.8 2053.3,4709.3 2020.0,4706.0C1986.7,4702.7 1953.3,4698.2 1920.0,4694.0C1886.7,4689.8 1858.3,4686.5 1820.0,4681.0C1781.7,4675.5 1723.3,4666.8 1690.0,4661.0C1656.7,4655.2 1648.3,4652.2 1620.0,4646.0C1591.7,4639.8 1553.3,4631.5 1520.0,4624.0C1486.7,4616.5 1453.3,4609.0 1420.0,4601.0C1386.7,4593.0 1345.7,4583.5 1320.0,4576.0C1294.3,4568.5 1294.3,4565.2 1266.0,4556.0C1237.7,4546.8 1186.0,4533.0 1150.0,4521.0C1114.0,4509.0 1083.3,4496.5 1050.0,4484.0C1016.7,4471.5 975.0,4456.0 950.0,4446.0C925.0,4436.0 921.7,4433.2 900.0,4424.0C878.3,4414.8 845.0,4401.8 820.0,4391.0C795.0,4380.2 773.3,4370.7 750.0,4359.0C726.7,4347.3 701.7,4334.0 680.0,4321.0C658.3,4308.0 636.7,4292.7 620.0,4281.0C603.3,4269.3 593.3,4263.5 580.0,4251.0C566.7,4238.5 552.8,4222.8 540.0,4206.0C527.2,4189.2 514.3,4167.7 503.0,4150.0C491.7,4132.3 481.3,4116.7 472.0,4100.0C462.7,4083.3 454.8,4066.7 447.0,4050.0C439.2,4033.3 431.2,4016.7 425.0,4000.0C418.8,3983.3 414.5,3966.7 410.0,3950.0C405.5,3933.3 400.8,3916.7 398.0,3900.0C395.2,3883.3 394.0,3883.3 393.0,3850.0C392.0,3816.7 392.2,3725.0 392.0,3700.0L392.0,3402.0Z"/></clipPath>
<mask id="mkc" maskUnits="userSpaceOnUse" x="0" y="0" width="2386" height="4856"><rect x="0" y="0" width="2386" height="4856" fill="#fff"/><rect x="450.3" y="3446.0" width="135.4" height="64.0" fill="#000"/><rect x="622.4" y="3408.0" width="101.2" height="64.0" fill="#000"/><rect x="767.3" y="3453.0" width="135.4" height="64.0" fill="#000"/><rect x="992.3" y="3413.0" width="135.4" height="64.0" fill="#000"/><rect x="467.3" y="3516.0" width="135.4" height="64.0" fill="#000"/><rect x="1015.3" y="3488.0" width="135.4" height="64.0" fill="#000"/><rect x="652.3" y="3571.0" width="135.4" height="64.0" fill="#000"/><rect x="880.3" y="3568.0" width="135.4" height="64.0" fill="#000"/><rect x="390.3" y="3618.0" width="135.4" height="64.0" fill="#000"/><rect x="622.3" y="3643.0" width="135.4" height="64.0" fill="#000"/><rect x="857.3" y="3651.0" width="135.4" height="64.0" fill="#000"/><rect x="1020.3" y="3631.0" width="135.4" height="64.0" fill="#000"/><rect x="400.3" y="3683.0" width="135.4" height="64.0" fill="#000"/><rect x="582.3" y="3710.0" width="135.4" height="64.0" fill="#000"/><rect x="822.3" y="3743.0" width="135.4" height="64.0" fill="#000"/><rect x="1002.3" y="3715.0" width="135.4" height="64.0" fill="#000"/><rect x="1157.3" y="3736.0" width="135.4" height="64.0" fill="#000"/><rect x="467.4" y="3798.0" width="101.2" height="64.0" fill="#000"/><rect x="652.3" y="3785.0" width="135.4" height="64.0" fill="#000"/><rect x="1147.3" y="3796.0" width="135.4" height="64.0" fill="#000"/><rect x="765.3" y="3848.0" width="135.4" height="64.0" fill="#000"/><rect x="950.3" y="3843.0" width="135.4" height="64.0" fill="#000"/><rect x="485.3" y="3883.0" width="135.4" height="64.0" fill="#000"/><rect x="729.3" y="3916.0" width="135.4" height="64.0" fill="#000"/><rect x="1122.3" y="3881.0" width="135.4" height="64.0" fill="#000"/><rect x="905.3" y="3940.0" width="135.4" height="64.0" fill="#000"/><rect x="447.3" y="3988.0" width="135.4" height="64.0" fill="#000"/><rect x="695.3" y="3987.0" width="135.4" height="64.0" fill="#000"/><rect x="870.3" y="4012.0" width="135.4" height="64.0" fill="#000"/><rect x="1084.3" y="3994.0" width="135.4" height="64.0" fill="#000"/><rect x="665.3" y="4052.0" width="135.4" height="64.0" fill="#000"/><rect x="1052.3" y="4069.0" width="135.4" height="64.0" fill="#000"/><rect x="517.3" y="4117.0" width="135.4" height="64.0" fill="#000"/><rect x="830.3" y="4102.0" width="135.4" height="64.0" fill="#000"/><rect x="1032.3" y="4134.0" width="135.4" height="64.0" fill="#000"/><rect x="632.3" y="4214.0" width="135.4" height="64.0" fill="#000"/><rect x="800.3" y="4189.0" width="135.4" height="64.0" fill="#000"/><rect x="1015.3" y="4199.0" width="135.4" height="64.0" fill="#000"/><rect x="807.3" y="4312.0" width="135.4" height="64.0" fill="#000"/><rect x="1007.3" y="4274.0" width="135.4" height="64.0" fill="#000"/><rect x="1022.3" y="4339.0" width="135.4" height="64.0" fill="#000"/><rect x="1052.3" y="4409.0" width="135.4" height="64.0" fill="#000"/><rect x="1205.3" y="3455.0" width="135.4" height="64.0" fill="#000"/><rect x="1292.3" y="3596.0" width="135.4" height="64.0" fill="#000"/><rect x="1317.3" y="3698.0" width="135.4" height="64.0" fill="#000"/><rect x="1327.3" y="3795.0" width="135.4" height="64.0" fill="#000"/><rect x="1327.3" y="3860.0" width="135.4" height="64.0" fill="#000"/><rect x="1324.3" y="3926.0" width="135.4" height="64.0" fill="#000"/><rect x="1317.3" y="3994.0" width="135.4" height="64.0" fill="#000"/><rect x="1300.3" y="4092.0" width="135.4" height="64.0" fill="#000"/><rect x="1289.3" y="4174.0" width="135.4" height="64.0" fill="#000"/><rect x="1287.3" y="4242.0" width="135.4" height="64.0" fill="#000"/><rect x="1289.3" y="4309.0" width="135.4" height="64.0" fill="#000"/><rect x="1317.3" y="4389.0" width="135.4" height="64.0" fill="#000"/><rect x="1360.3" y="4457.0" width="135.4" height="64.0" fill="#000"/><rect x="1447.3" y="4532.0" width="135.4" height="64.0" fill="#000"/><rect x="1362.3" y="3516.0" width="135.4" height="64.0" fill="#000"/><rect x="1447.3" y="3608.0" width="135.4" height="64.0" fill="#000"/><rect x="1492.3" y="3676.0" width="135.4" height="64.0" fill="#000"/><rect x="1537.3" y="3741.0" width="135.4" height="64.0" fill="#000"/><rect x="1570.3" y="3810.0" width="135.4" height="64.0" fill="#000"/><rect x="1592.3" y="3876.0" width="135.4" height="64.0" fill="#000"/><rect x="1624.3" y="3976.0" width="135.4" height="64.0" fill="#000"/><rect x="1640.3" y="4042.0" width="135.4" height="64.0" fill="#000"/><rect x="1664.3" y="4141.0" width="135.4" height="64.0" fill="#000"/><rect x="1685.3" y="4234.0" width="135.4" height="64.0" fill="#000"/><rect x="1709.3" y="4307.0" width="135.4" height="64.0" fill="#000"/><rect x="1752.3" y="4389.0" width="135.4" height="64.0" fill="#000"/><rect x="1834.3" y="4472.0" width="135.4" height="64.0" fill="#000"/><rect x="1979.3" y="4549.0" width="135.4" height="64.0" fill="#000"/><rect x="2217.3" y="4601.0" width="135.4" height="64.0" fill="#000"/><rect x="1587.3" y="3528.0" width="135.4" height="64.0" fill="#000"/><rect x="1800.3" y="3626.0" width="135.4" height="64.0" fill="#000"/><rect x="1962.3" y="3756.0" width="135.4" height="64.0" fill="#000"/><rect x="2157.3" y="3883.0" width="135.4" height="64.0" fill="#000"/><rect x="1417.3" y="3401.0" width="135.4" height="64.0" fill="#000"/><rect x="1567.3" y="3406.0" width="135.4" height="64.0" fill="#000"/><rect x="1832.3" y="3431.0" width="135.4" height="64.0" fill="#000"/><rect x="2002.3" y="3486.0" width="135.4" height="64.0" fill="#000"/><rect x="2172.3" y="3556.0" width="135.4" height="64.0" fill="#000"/><rect x="1672.3" y="3343.0" width="135.4" height="64.0" fill="#000"/><rect x="1827.3" y="3348.0" width="135.4" height="64.0" fill="#000"/><rect x="1992.3" y="3375.0" width="135.4" height="64.0" fill="#000"/><rect x="2219.3" y="3415.0" width="135.4" height="64.0" fill="#000"/><rect x="2216.3" y="3349.0" width="135.4" height="64.0" fill="#000"/></mask>
<g clip-path="url(#clc)">
<rect x="300" y="3291" width="2200" height="1451" fill="#fc0000"/>
<path d="M430.0,3402.0C429.2,3413.3 428.0,3450.3 425.0,3470.0C422.0,3489.7 416.2,3503.3 412.0,3520.0C407.8,3536.7 403.5,3555.8 400.0,3570.0C396.5,3584.2 392.5,3599.2 391.0,3605.0L91.0,3605.0L91.0,5042.0L3000.0,5042.0L3000.0,2991.0L430.0,2991.0Z" fill="#ff7600"/>
<path d="M482.0,3402.0C481.2,3413.3 480.7,3448.7 477.0,3470.0C473.3,3491.3 465.3,3511.7 460.0,3530.0C454.7,3548.3 450.8,3563.3 445.0,3580.0C439.2,3596.7 430.8,3613.3 425.0,3630.0C419.2,3646.7 415.7,3665.0 410.0,3680.0C404.3,3695.0 394.2,3713.3 391.0,3720.0L91.0,3720.0L91.0,5042.0L3000.0,5042.0L3000.0,2991.0L482.0,2991.0Z" fill="#ffe400"/>
<path d="M560.0,3402.0C559.2,3413.3 558.3,3447.8 555.0,3470.0C551.7,3492.2 546.7,3514.2 540.0,3535.0C533.3,3555.8 523.3,3575.8 515.0,3595.0C506.7,3614.2 498.0,3630.0 490.0,3650.0C482.0,3670.0 474.5,3696.7 467.0,3715.0C459.5,3733.3 452.0,3744.2 445.0,3760.0C438.0,3775.8 430.8,3791.7 425.0,3810.0C419.2,3828.3 414.2,3851.7 410.0,3870.0C405.8,3888.3 403.0,3908.3 400.0,3920.0C397.0,3931.7 393.3,3936.7 392.0,3940.0L92.0,3940.0L92.0,5042.0L3000.0,5042.0L3000.0,2991.0L560.0,2991.0Z" fill="#aaff04"/>
<path d="M670.0,3402.0C670.0,3408.3 670.0,3428.7 670.0,3440.0C670.0,3451.3 671.7,3455.0 670.0,3470.0C668.3,3485.0 665.0,3509.2 660.0,3530.0C655.0,3550.8 648.3,3573.3 640.0,3595.0C631.7,3616.7 620.0,3639.2 610.0,3660.0C600.0,3680.8 590.0,3700.0 580.0,3720.0C570.0,3740.0 560.3,3761.7 550.0,3780.0C539.7,3798.3 527.2,3813.3 518.0,3830.0C508.8,3846.7 503.0,3861.7 495.0,3880.0C487.0,3898.3 476.7,3921.7 470.0,3940.0C463.3,3958.3 458.7,3973.3 455.0,3990.0C451.3,4006.7 449.5,4029.7 448.0,4040.0C446.5,4050.3 446.3,4050.0 446.0,4052.0L146.0,4052.0L146.0,5042.0L3000.0,5042.0L3000.0,2991.0L670.0,2991.0Z" fill="#44fe04"/>
<path d="M830.0,3402.0C830.8,3413.3 834.7,3450.3 835.0,3470.0C835.3,3489.7 834.2,3501.7 832.0,3520.0C829.8,3538.3 826.5,3560.0 822.0,3580.0C817.5,3600.0 812.0,3620.0 805.0,3640.0C798.0,3660.0 788.3,3681.7 780.0,3700.0C771.7,3718.3 763.3,3733.3 755.0,3750.0C746.7,3766.7 740.0,3780.0 730.0,3800.0C720.0,3820.0 706.7,3848.3 695.0,3870.0C683.3,3891.7 671.7,3910.0 660.0,3930.0C648.3,3950.0 635.5,3970.0 625.0,3990.0C614.5,4010.0 603.7,4030.0 597.0,4050.0C590.3,4070.0 587.0,4093.5 585.0,4110.0C583.0,4126.5 584.2,4134.0 585.0,4149.0C585.8,4164.0 587.5,4183.2 590.0,4200.0C592.5,4216.8 596.0,4236.8 600.0,4250.0C604.0,4263.2 611.7,4274.2 614.0,4279.0L628.0,4579.0L3000.0,5042.0L3000.0,2991.0L830.0,2991.0Z" fill="#00fe2a"/>
<path d="M1055.0,3402.0C1056.7,3409.2 1060.3,3425.3 1065.0,3445.0C1069.7,3464.7 1078.0,3497.5 1083.0,3520.0C1088.0,3542.5 1093.5,3556.2 1095.0,3580.0C1096.5,3603.8 1095.3,3635.2 1092.0,3663.0C1088.7,3690.8 1082.0,3722.5 1075.0,3747.0C1068.0,3771.5 1059.5,3788.7 1050.0,3810.0C1040.5,3831.3 1030.8,3848.0 1018.0,3875.0C1005.2,3902.0 986.3,3943.8 973.0,3972.0C959.7,4000.2 950.5,4017.0 938.0,4044.0C925.5,4071.0 909.7,4104.5 898.0,4134.0C886.3,4163.5 874.0,4198.3 868.0,4221.0C862.0,4243.7 862.5,4253.5 862.0,4270.0C861.5,4286.5 862.8,4307.7 865.0,4320.0C867.2,4332.3 870.0,4332.3 875.0,4344.0C880.0,4355.7 887.5,4376.5 895.0,4390.0C902.5,4403.5 911.0,4415.2 920.0,4425.0C929.0,4434.8 944.2,4445.0 949.0,4449.0L978.0,4749.0L3000.0,5042.0L3000.0,2991.0L1055.0,2991.0Z" fill="#00ff9e"/>
<path d="M1215.0,3402.0C1219.2,3410.0 1230.3,3435.8 1240.0,3450.0C1249.7,3464.2 1261.3,3473.7 1273.0,3487.0C1284.7,3500.3 1299.7,3516.2 1310.0,3530.0C1320.3,3543.8 1326.7,3553.7 1335.0,3570.0C1343.3,3586.3 1352.8,3609.7 1360.0,3628.0C1367.2,3646.3 1373.3,3663.0 1378.0,3680.0C1382.7,3697.0 1385.5,3713.3 1388.0,3730.0C1390.5,3746.7 1391.8,3763.8 1393.0,3780.0C1394.2,3796.2 1394.7,3808.3 1395.0,3827.0C1395.3,3845.7 1395.5,3870.2 1395.0,3892.0C1394.5,3913.8 1393.7,3935.7 1392.0,3958.0C1390.3,3980.3 1387.8,4005.7 1385.0,4026.0C1382.2,4046.3 1377.8,4063.7 1375.0,4080.0C1372.2,4096.3 1371.0,4103.0 1368.0,4124.0C1365.0,4145.0 1359.5,4181.0 1357.0,4206.0C1354.5,4231.0 1352.5,4251.5 1353.0,4274.0C1353.5,4296.5 1354.7,4318.3 1360.0,4341.0C1365.3,4363.7 1373.7,4385.3 1385.0,4410.0C1396.3,4434.7 1406.3,4463.3 1428.0,4489.0C1449.7,4514.7 1491.3,4546.2 1515.0,4564.0C1538.7,4581.8 1549.2,4584.0 1570.0,4596.0C1590.8,4608.0 1618.5,4624.5 1640.0,4636.0C1661.5,4647.5 1689.2,4660.2 1699.0,4665.0L1758.0,4965.0L3000.0,5042.0L3000.0,2991.0L1215.0,2991.0Z" fill="#00e5ff"/>
<path d="M1360.0,3402.0C1368.3,3410.0 1393.3,3435.3 1410.0,3450.0C1426.7,3464.7 1441.7,3478.7 1460.0,3490.0C1478.3,3501.3 1500.0,3509.7 1520.0,3518.0C1540.0,3526.3 1557.5,3533.0 1580.0,3540.0C1602.5,3547.0 1628.3,3551.7 1655.0,3560.0C1681.7,3568.3 1714.2,3579.2 1740.0,3590.0C1765.8,3600.8 1788.7,3613.7 1810.0,3625.0C1831.3,3636.3 1848.0,3645.5 1868.0,3658.0C1888.0,3670.5 1911.3,3686.3 1930.0,3700.0C1948.7,3713.7 1963.3,3725.3 1980.0,3740.0C1996.7,3754.7 2013.3,3773.0 2030.0,3788.0C2046.7,3803.0 2061.7,3815.5 2080.0,3830.0C2098.3,3844.5 2115.8,3860.8 2140.0,3875.0C2164.2,3889.2 2198.3,3904.2 2225.0,3915.0C2251.7,3925.8 2278.3,3935.0 2300.0,3940.0C2321.7,3945.0 2345.8,3944.2 2355.0,3945.0L3000.0,3945.0L3000.0,2991.0L1360.0,2991.0Z" fill="#0069ff"/>
<path d="M1440.0,3393.0C1445.0,3392.3 1456.7,3390.0 1470.0,3389.0C1483.3,3388.0 1500.7,3387.8 1520.0,3387.0C1539.3,3386.2 1564.5,3385.5 1586.0,3384.0C1607.5,3382.5 1625.8,3379.5 1649.0,3378.0C1672.2,3376.5 1693.3,3374.2 1725.0,3375.0C1756.7,3375.8 1804.2,3380.3 1839.0,3383.0C1873.8,3385.7 1902.5,3387.7 1934.0,3391.0C1965.5,3394.3 1996.5,3398.7 2028.0,3403.0C2059.5,3407.3 2091.3,3411.7 2123.0,3417.0C2154.7,3422.3 2179.3,3428.3 2218.0,3435.0C2256.7,3441.7 2332.2,3453.3 2355.0,3457.0L3000.0,3457.0L3000.0,2991.0L1440.0,2991.0Z" fill="#0202fa"/>
</g>
<g clip-path="url(#clc)"><g mask="url(#mkc)" fill="none" stroke="#000" stroke-width="4.8" stroke-opacity="0.8">
<path d="M407.0,3402.0C405.8,3413.3 402.3,3450.3 400.0,3470.0C397.7,3489.7 394.2,3511.7 393.0,3520.0"/>
<path d="M430.0,3402.0C429.2,3413.3 428.0,3450.3 425.0,3470.0C422.0,3489.7 416.2,3503.3 412.0,3520.0C407.8,3536.7 403.5,3555.8 400.0,3570.0C396.5,3584.2 392.5,3599.2 391.0,3605.0"/>
<path d="M452.0,3402.0C450.8,3417.5 450.3,3467.0 445.0,3495.0C439.7,3523.0 427.5,3547.5 420.0,3570.0C412.5,3592.5 404.7,3615.8 400.0,3630.0C395.3,3644.2 393.3,3650.8 392.0,3655.0"/>
<path d="M482.0,3402.0C481.2,3413.3 480.7,3448.7 477.0,3470.0C473.3,3491.3 465.3,3511.7 460.0,3530.0C454.7,3548.3 450.8,3563.3 445.0,3580.0C439.2,3596.7 430.8,3613.3 425.0,3630.0C419.2,3646.7 415.7,3665.0 410.0,3680.0C404.3,3695.0 394.2,3713.3 391.0,3720.0"/>
<path d="M522.0,3402.0C521.2,3414.7 521.5,3451.7 517.0,3478.0C512.5,3504.3 502.0,3539.7 495.0,3560.0C488.0,3580.3 481.3,3585.0 475.0,3600.0C468.7,3615.0 463.7,3630.0 457.0,3650.0C450.3,3670.0 442.0,3696.7 435.0,3720.0C428.0,3743.3 420.8,3768.3 415.0,3790.0C409.2,3811.7 403.7,3835.0 400.0,3850.0C396.3,3865.0 394.2,3875.0 393.0,3880.0"/>
<path d="M560.0,3402.0C559.2,3413.3 558.3,3447.8 555.0,3470.0C551.7,3492.2 546.7,3514.2 540.0,3535.0C533.3,3555.8 523.3,3575.8 515.0,3595.0C506.7,3614.2 498.0,3630.0 490.0,3650.0C482.0,3670.0 474.5,3696.7 467.0,3715.0C459.5,3733.3 452.0,3744.2 445.0,3760.0C438.0,3775.8 430.8,3791.7 425.0,3810.0C419.2,3828.3 414.2,3851.7 410.0,3870.0C405.8,3888.3 403.0,3908.3 400.0,3920.0C397.0,3931.7 393.3,3936.7 392.0,3940.0"/>
<path d="M607.0,3402.0C607.5,3411.7 611.2,3440.3 610.0,3460.0C608.8,3479.7 605.8,3499.2 600.0,3520.0C594.2,3540.8 582.5,3563.3 575.0,3585.0C567.5,3606.7 562.5,3633.3 555.0,3650.0C547.5,3666.7 540.0,3667.5 530.0,3685.0C520.0,3702.5 505.0,3734.2 495.0,3755.0C485.0,3775.8 478.3,3789.2 470.0,3810.0C461.7,3830.8 451.7,3858.3 445.0,3880.0C438.3,3901.7 433.8,3921.7 430.0,3940.0C426.2,3958.3 423.3,3981.7 422.0,3990.0"/>
<path d="M670.0,3402.0C670.0,3408.3 670.0,3428.7 670.0,3440.0C670.0,3451.3 671.7,3455.0 670.0,3470.0C668.3,3485.0 665.0,3509.2 660.0,3530.0C655.0,3550.8 648.3,3573.3 640.0,3595.0C631.7,3616.7 620.0,3639.2 610.0,3660.0C600.0,3680.8 590.0,3700.0 580.0,3720.0C570.0,3740.0 560.3,3761.7 550.0,3780.0C539.7,3798.3 527.2,3813.3 518.0,3830.0C508.8,3846.7 503.0,3861.7 495.0,3880.0C487.0,3898.3 476.7,3921.7 470.0,3940.0C463.3,3958.3 458.7,3973.3 455.0,3990.0C451.3,4006.7 449.5,4029.7 448.0,4040.0C446.5,4050.3 446.3,4050.0 446.0,4052.0"/>
<path d="M742.0,3402.0C742.8,3410.0 747.3,3430.3 747.0,3450.0C746.7,3469.7 743.3,3500.8 740.0,3520.0C736.7,3539.2 730.3,3551.2 727.0,3565.0C723.7,3578.8 726.2,3584.7 720.0,3603.0C713.8,3621.3 701.7,3651.8 690.0,3675.0C678.3,3698.2 660.0,3725.3 650.0,3742.0C640.0,3758.7 637.5,3762.0 630.0,3775.0C622.5,3788.0 613.3,3804.2 605.0,3820.0C596.7,3835.8 588.7,3854.2 580.0,3870.0C571.3,3885.8 560.5,3900.0 553.0,3915.0C545.5,3930.0 541.3,3942.5 535.0,3960.0C528.7,3977.5 520.0,4000.0 515.0,4020.0C510.0,4040.0 506.2,4060.0 505.0,4080.0C503.8,4100.0 506.0,4124.3 508.0,4140.0C510.0,4155.7 515.5,4168.3 517.0,4174.0"/>
<path d="M830.0,3402.0C830.8,3413.3 834.7,3450.3 835.0,3470.0C835.3,3489.7 834.2,3501.7 832.0,3520.0C829.8,3538.3 826.5,3560.0 822.0,3580.0C817.5,3600.0 812.0,3620.0 805.0,3640.0C798.0,3660.0 788.3,3681.7 780.0,3700.0C771.7,3718.3 763.3,3733.3 755.0,3750.0C746.7,3766.7 740.0,3780.0 730.0,3800.0C720.0,3820.0 706.7,3848.3 695.0,3870.0C683.3,3891.7 671.7,3910.0 660.0,3930.0C648.3,3950.0 635.5,3970.0 625.0,3990.0C614.5,4010.0 603.7,4030.0 597.0,4050.0C590.3,4070.0 587.0,4093.5 585.0,4110.0C583.0,4126.5 584.2,4134.0 585.0,4149.0C585.8,4164.0 587.5,4183.2 590.0,4200.0C592.5,4216.8 596.0,4236.8 600.0,4250.0C604.0,4263.2 611.7,4274.2 614.0,4279.0"/>
<path d="M935.0,3402.0C937.0,3413.3 944.2,3447.8 947.0,3470.0C949.8,3492.2 951.5,3518.3 952.0,3535.0C952.5,3551.7 950.7,3559.2 950.0,3570.0C949.3,3580.8 952.2,3581.2 948.0,3600.0C943.8,3618.8 932.2,3661.3 925.0,3683.0C917.8,3704.7 910.8,3714.7 905.0,3730.0C899.2,3745.3 897.5,3758.3 890.0,3775.0C882.5,3791.7 869.5,3812.5 860.0,3830.0C850.5,3847.5 843.5,3860.3 833.0,3880.0C822.5,3899.7 808.7,3924.8 797.0,3948.0C785.3,3971.2 773.7,3996.3 763.0,4019.0C752.3,4041.7 741.8,4065.5 733.0,4084.0C724.2,4102.5 715.5,4112.3 710.0,4130.0C704.5,4147.7 701.7,4170.7 700.0,4190.0C698.3,4209.3 697.5,4229.3 700.0,4246.0C702.5,4262.7 709.2,4275.2 715.0,4290.0C720.8,4304.8 728.5,4322.8 735.0,4335.0C741.5,4347.2 750.8,4358.3 754.0,4363.0"/>
<path d="M1055.0,3402.0C1056.7,3409.2 1060.3,3425.3 1065.0,3445.0C1069.7,3464.7 1078.0,3497.5 1083.0,3520.0C1088.0,3542.5 1093.5,3556.2 1095.0,3580.0C1096.5,3603.8 1095.3,3635.2 1092.0,3663.0C1088.7,3690.8 1082.0,3722.5 1075.0,3747.0C1068.0,3771.5 1059.5,3788.7 1050.0,3810.0C1040.5,3831.3 1030.8,3848.0 1018.0,3875.0C1005.2,3902.0 986.3,3943.8 973.0,3972.0C959.7,4000.2 950.5,4017.0 938.0,4044.0C925.5,4071.0 909.7,4104.5 898.0,4134.0C886.3,4163.5 874.0,4198.3 868.0,4221.0C862.0,4243.7 862.5,4253.5 862.0,4270.0C861.5,4286.5 862.8,4307.7 865.0,4320.0C867.2,4332.3 870.0,4332.3 875.0,4344.0C880.0,4355.7 887.5,4376.5 895.0,4390.0C902.5,4403.5 911.0,4415.2 920.0,4425.0C929.0,4434.8 944.2,4445.0 949.0,4449.0"/>
<path d="M1140.0,3402.0C1145.0,3413.3 1160.0,3445.3 1170.0,3470.0C1180.0,3494.7 1191.7,3525.0 1200.0,3550.0C1208.3,3575.0 1215.0,3596.7 1220.0,3620.0C1225.0,3643.3 1228.7,3671.7 1230.0,3690.0C1231.3,3708.3 1228.8,3717.0 1228.0,3730.0C1227.2,3743.0 1227.2,3751.7 1225.0,3768.0C1222.8,3784.3 1219.2,3810.2 1215.0,3828.0C1210.8,3845.8 1204.2,3860.8 1200.0,3875.0C1195.8,3889.2 1195.0,3897.2 1190.0,3913.0C1185.0,3928.8 1176.3,3951.2 1170.0,3970.0C1163.7,3988.8 1160.3,4004.2 1152.0,4026.0C1143.7,4047.8 1128.7,4077.7 1120.0,4101.0C1111.3,4124.3 1106.2,4144.3 1100.0,4166.0C1093.8,4187.7 1087.2,4207.7 1083.0,4231.0C1078.8,4254.3 1073.8,4282.7 1075.0,4306.0C1076.2,4329.3 1082.5,4348.5 1090.0,4371.0C1097.5,4393.5 1110.0,4424.3 1120.0,4441.0C1130.0,4457.7 1138.3,4459.3 1150.0,4471.0C1161.7,4482.7 1176.0,4498.7 1190.0,4511.0C1204.0,4523.3 1226.7,4539.3 1234.0,4545.0"/>
<path d="M1215.0,3402.0C1219.2,3410.0 1230.3,3435.8 1240.0,3450.0C1249.7,3464.2 1261.3,3473.7 1273.0,3487.0C1284.7,3500.3 1299.7,3516.2 1310.0,3530.0C1320.3,3543.8 1326.7,3553.7 1335.0,3570.0C1343.3,3586.3 1352.8,3609.7 1360.0,3628.0C1367.2,3646.3 1373.3,3663.0 1378.0,3680.0C1382.7,3697.0 1385.5,3713.3 1388.0,3730.0C1390.5,3746.7 1391.8,3763.8 1393.0,3780.0C1394.2,3796.2 1394.7,3808.3 1395.0,3827.0C1395.3,3845.7 1395.5,3870.2 1395.0,3892.0C1394.5,3913.8 1393.7,3935.7 1392.0,3958.0C1390.3,3980.3 1387.8,4005.7 1385.0,4026.0C1382.2,4046.3 1377.8,4063.7 1375.0,4080.0C1372.2,4096.3 1371.0,4103.0 1368.0,4124.0C1365.0,4145.0 1359.5,4181.0 1357.0,4206.0C1354.5,4231.0 1352.5,4251.5 1353.0,4274.0C1353.5,4296.5 1354.7,4318.3 1360.0,4341.0C1365.3,4363.7 1373.7,4385.3 1385.0,4410.0C1396.3,4434.7 1406.3,4463.3 1428.0,4489.0C1449.7,4514.7 1491.3,4546.2 1515.0,4564.0C1538.7,4581.8 1549.2,4584.0 1570.0,4596.0C1590.8,4608.0 1618.5,4624.5 1640.0,4636.0C1661.5,4647.5 1689.2,4660.2 1699.0,4665.0"/>
<path d="M1280.0,3402.0C1286.7,3408.3 1306.7,3427.0 1320.0,3440.0C1333.3,3453.0 1347.5,3467.5 1360.0,3480.0C1372.5,3492.5 1383.3,3503.7 1395.0,3515.0C1406.7,3526.3 1419.2,3535.5 1430.0,3548.0C1440.8,3560.5 1450.8,3579.7 1460.0,3590.0C1469.2,3600.3 1475.8,3601.7 1485.0,3610.0C1494.2,3618.3 1502.5,3623.7 1515.0,3640.0C1527.5,3656.3 1545.0,3685.8 1560.0,3708.0C1575.0,3730.2 1592.0,3750.7 1605.0,3773.0C1618.0,3795.3 1628.8,3819.5 1638.0,3842.0C1647.2,3864.5 1653.8,3891.7 1660.0,3908.0C1666.2,3924.3 1671.3,3928.8 1675.0,3940.0C1678.7,3951.2 1679.2,3963.7 1682.0,3975.0C1684.8,3986.3 1687.7,3991.5 1692.0,4008.0C1696.3,4024.5 1704.2,4057.7 1708.0,4074.0C1711.8,4090.3 1712.5,4094.8 1715.0,4106.0C1717.5,4117.2 1720.2,4129.8 1723.0,4141.0C1725.8,4152.2 1729.7,4162.2 1732.0,4173.0C1734.3,4183.8 1735.2,4195.5 1737.0,4206.0C1738.8,4216.5 1740.3,4226.0 1743.0,4236.0C1745.7,4246.0 1750.2,4255.2 1753.0,4266.0C1755.8,4276.8 1756.0,4288.8 1760.0,4301.0C1764.0,4313.2 1772.3,4327.3 1777.0,4339.0C1781.7,4350.7 1784.2,4362.3 1788.0,4371.0C1791.8,4379.7 1794.7,4382.7 1800.0,4391.0C1805.3,4399.3 1811.7,4410.2 1820.0,4421.0C1828.3,4431.8 1842.5,4446.8 1850.0,4456.0C1857.5,4465.2 1856.3,4468.0 1865.0,4476.0C1873.7,4484.0 1887.8,4494.0 1902.0,4504.0C1916.2,4514.0 1936.2,4527.3 1950.0,4536.0C1963.8,4544.7 1968.8,4548.5 1985.0,4556.0C2001.2,4563.5 2026.2,4573.0 2047.0,4581.0C2067.8,4589.0 2091.2,4597.8 2110.0,4604.0C2128.8,4610.2 2141.7,4614.7 2160.0,4618.0C2178.3,4621.3 2199.2,4621.5 2220.0,4624.0C2240.8,4626.5 2262.5,4631.2 2285.0,4633.0C2307.5,4634.8 2343.3,4634.7 2355.0,4635.0"/>
<path d="M1360.0,3402.0C1368.3,3410.0 1393.3,3435.3 1410.0,3450.0C1426.7,3464.7 1441.7,3478.7 1460.0,3490.0C1478.3,3501.3 1500.0,3509.7 1520.0,3518.0C1540.0,3526.3 1557.5,3533.0 1580.0,3540.0C1602.5,3547.0 1628.3,3551.7 1655.0,3560.0C1681.7,3568.3 1714.2,3579.2 1740.0,3590.0C1765.8,3600.8 1788.7,3613.7 1810.0,3625.0C1831.3,3636.3 1848.0,3645.5 1868.0,3658.0C1888.0,3670.5 1911.3,3686.3 1930.0,3700.0C1948.7,3713.7 1963.3,3725.3 1980.0,3740.0C1996.7,3754.7 2013.3,3773.0 2030.0,3788.0C2046.7,3803.0 2061.7,3815.5 2080.0,3830.0C2098.3,3844.5 2115.8,3860.8 2140.0,3875.0C2164.2,3889.2 2198.3,3904.2 2225.0,3915.0C2251.7,3925.8 2278.3,3935.0 2300.0,3940.0C2321.7,3945.0 2345.8,3944.2 2355.0,3945.0"/>
<path d="M1440.0,3420.0C1447.5,3422.2 1467.5,3429.7 1485.0,3433.0C1502.5,3436.3 1530.0,3438.8 1545.0,3440.0C1560.0,3441.2 1560.0,3440.3 1575.0,3440.0C1590.0,3439.7 1614.2,3438.0 1635.0,3438.0C1655.8,3438.0 1677.5,3438.8 1700.0,3440.0C1722.5,3441.2 1747.5,3442.5 1770.0,3445.0C1792.5,3447.5 1813.3,3452.0 1835.0,3455.0C1856.7,3458.0 1878.3,3459.2 1900.0,3463.0C1921.7,3466.8 1947.5,3472.7 1965.0,3478.0C1982.5,3483.3 1987.5,3488.3 2005.0,3495.0C2022.5,3501.7 2048.3,3509.7 2070.0,3518.0C2091.7,3526.3 2117.5,3537.7 2135.0,3545.0C2152.5,3552.3 2157.5,3554.8 2175.0,3562.0C2192.5,3569.2 2218.3,3581.3 2240.0,3588.0C2261.7,3594.7 2285.8,3599.2 2305.0,3602.0C2324.2,3604.8 2346.7,3604.5 2355.0,3605.0"/>
<path d="M1440.0,3393.0C1445.0,3392.3 1456.7,3390.0 1470.0,3389.0C1483.3,3388.0 1500.7,3387.8 1520.0,3387.0C1539.3,3386.2 1564.5,3385.5 1586.0,3384.0C1607.5,3382.5 1625.8,3379.5 1649.0,3378.0C1672.2,3376.5 1693.3,3374.2 1725.0,3375.0C1756.7,3375.8 1804.2,3380.3 1839.0,3383.0C1873.8,3385.7 1902.5,3387.7 1934.0,3391.0C1965.5,3394.3 1996.5,3398.7 2028.0,3403.0C2059.5,3407.3 2091.3,3411.7 2123.0,3417.0C2154.7,3422.3 2179.3,3428.3 2218.0,3435.0C2256.7,3441.7 2332.2,3453.3 2355.0,3457.0"/>
<path d="M1590.0,3356.0L1690.0,3352.0" stroke-dasharray="34 16"/>
<path d="M1950.0,3349.0C1975.0,3350.3 2054.2,3353.8 2100.0,3357.0C2145.8,3360.2 2204.2,3366.2 2225.0,3368.0" stroke-dasharray="34 16"/>
</g></g>
<path d="M1480.0,3385.0L1610.0,4246.0L2355.0,4246.0" fill="none" stroke="#088aa6" stroke-opacity="0.9" stroke-width="6.5"/>
<path d="M392.0,3402.0L1370.0,3402.0C1375.0,3401.5 1391.7,3400.2 1400.0,3399.0C1408.3,3397.8 1411.7,3398.2 1420.0,3395.0C1428.3,3391.8 1441.7,3385.8 1450.0,3380.0C1458.3,3374.2 1461.7,3365.3 1470.0,3360.0C1478.3,3354.7 1488.3,3351.3 1500.0,3348.0C1511.7,3344.7 1520.0,3343.8 1540.0,3340.0C1560.0,3336.2 1590.0,3329.3 1620.0,3325.0C1650.0,3320.7 1686.7,3316.3 1720.0,3314.0C1753.3,3311.7 1786.7,3311.3 1820.0,3311.0C1853.3,3310.7 1886.7,3310.7 1920.0,3312.0C1953.3,3313.3 1986.7,3316.3 2020.0,3319.0C2053.3,3321.7 2086.7,3325.0 2120.0,3328.0C2153.3,3331.0 2180.8,3334.0 2220.0,3337.0C2259.2,3340.0 2332.5,3344.5 2355.0,3346.0" fill="none" stroke="#000" stroke-width="6.5"/>
<path d="M1470.0,3360.0C1475.0,3358.0 1488.3,3351.3 1500.0,3348.0C1511.7,3344.7 1520.0,3343.8 1540.0,3340.0C1560.0,3336.2 1590.0,3329.3 1620.0,3325.0C1650.0,3320.7 1686.7,3316.3 1720.0,3314.0C1753.3,3311.7 1786.7,3311.3 1820.0,3311.0C1853.3,3310.7 1886.7,3310.7 1920.0,3312.0C1953.3,3313.3 1986.7,3316.3 2020.0,3319.0C2053.3,3321.7 2086.7,3325.0 2120.0,3328.0C2153.3,3331.0 2180.8,3334.0 2220.0,3337.0C2259.2,3340.0 2332.5,3344.5 2355.0,3346.0" fill="none" stroke="#000" stroke-width="8" transform="translate(0,2.0)"/>
<path d="M1480.0,3367.0C1489.7,3365.0 1514.3,3359.2 1538.0,3355.0C1561.7,3350.8 1590.0,3345.7 1622.0,3342.0C1654.0,3338.3 1695.3,3334.8 1730.0,3333.0C1764.7,3331.2 1796.7,3331.0 1830.0,3331.0C1863.3,3331.0 1895.3,3331.3 1930.0,3333.0C1964.7,3334.7 1999.2,3337.8 2038.0,3341.0C2076.8,3344.2 2110.2,3347.8 2163.0,3352.0C2215.8,3356.2 2323.0,3363.7 2355.0,3366.0" fill="none" stroke="#000010" stroke-width="4.8"/>
<path d="M392.0,3402.0L392.0,3700.0C392.2,3725.0 392.0,3816.7 393.0,3850.0C394.0,3883.3 395.2,3883.3 398.0,3900.0C400.8,3916.7 405.5,3933.3 410.0,3950.0C414.5,3966.7 418.8,3983.3 425.0,4000.0C431.2,4016.7 439.2,4033.3 447.0,4050.0C454.8,4066.7 462.7,4083.3 472.0,4100.0C481.3,4116.7 491.7,4132.3 503.0,4150.0C514.3,4167.7 527.2,4189.2 540.0,4206.0C552.8,4222.8 566.7,4238.5 580.0,4251.0C593.3,4263.5 603.3,4269.3 620.0,4281.0C636.7,4292.7 658.3,4308.0 680.0,4321.0C701.7,4334.0 726.7,4347.3 750.0,4359.0C773.3,4370.7 795.0,4380.2 820.0,4391.0C845.0,4401.8 878.3,4414.8 900.0,4424.0C921.7,4433.2 925.0,4436.0 950.0,4446.0C975.0,4456.0 1016.7,4471.5 1050.0,4484.0C1083.3,4496.5 1114.0,4509.0 1150.0,4521.0C1186.0,4533.0 1237.7,4546.8 1266.0,4556.0C1294.3,4565.2 1294.3,4568.5 1320.0,4576.0C1345.7,4583.5 1386.7,4593.0 1420.0,4601.0C1453.3,4609.0 1486.7,4616.5 1520.0,4624.0C1553.3,4631.5 1591.7,4639.8 1620.0,4646.0C1648.3,4652.2 1656.7,4655.2 1690.0,4661.0C1723.3,4666.8 1781.7,4675.5 1820.0,4681.0C1858.3,4686.5 1886.7,4689.8 1920.0,4694.0C1953.3,4698.2 1986.7,4702.7 2020.0,4706.0C2053.3,4709.3 2086.7,4711.8 2120.0,4714.0C2153.3,4716.2 2180.8,4717.7 2220.0,4719.0C2259.2,4720.3 2332.5,4721.5 2355.0,4722.0" fill="none" stroke="#000" stroke-width="6" stroke-linejoin="round"/>
<path d="M680.0,4321.0C691.7,4327.3 726.7,4347.3 750.0,4359.0C773.3,4370.7 795.0,4380.2 820.0,4391.0C845.0,4401.8 878.3,4414.8 900.0,4424.0C921.7,4433.2 925.0,4436.0 950.0,4446.0C975.0,4456.0 1016.7,4471.5 1050.0,4484.0C1083.3,4496.5 1114.0,4509.0 1150.0,4521.0C1186.0,4533.0 1237.7,4546.8 1266.0,4556.0C1294.3,4565.2 1294.3,4568.5 1320.0,4576.0C1345.7,4583.5 1386.7,4593.0 1420.0,4601.0C1453.3,4609.0 1486.7,4616.5 1520.0,4624.0C1553.3,4631.5 1591.7,4639.8 1620.0,4646.0C1648.3,4652.2 1656.7,4655.2 1690.0,4661.0C1723.3,4666.8 1781.7,4675.5 1820.0,4681.0C1858.3,4686.5 1886.7,4689.8 1920.0,4694.0C1953.3,4698.2 1986.7,4702.7 2020.0,4706.0C2053.3,4709.3 2086.7,4711.8 2120.0,4714.0C2153.3,4716.2 2180.8,4717.7 2220.0,4719.0C2259.2,4720.3 2332.5,4721.5 2355.0,4722.0" fill="none" stroke="#000" stroke-width="7.5" transform="translate(0,-1)"/>
<g font-family="'Liberation Sans', sans-serif" font-size="41.0" fill="#000" text-anchor="middle" stroke="#000" stroke-width="2.5" stroke-linejoin="round" opacity="0.72">
<text transform="translate(518.0,3476.0) scale(1,1.12)" y="14.7">1698.8</text>
<text transform="translate(673.0,3438.0) scale(1,1.12)" y="14.7">1696</text>
<text transform="translate(835.0,3483.0) scale(1,1.12)" y="14.7">1694.2</text>
<text transform="translate(1060.0,3443.0) scale(1,1.12)" y="14.7">1692.4</text>
<text transform="translate(535.0,3546.0) scale(1,1.12)" y="14.7">1697.9</text>
<text transform="translate(1083.0,3518.0) scale(1,1.12)" y="14.7">1692.4</text>
<text transform="translate(720.0,3601.0) scale(1,1.12)" y="14.7">1695.1</text>
<text transform="translate(948.0,3598.0) scale(1,1.12)" y="14.7">1693.3</text>
<text transform="translate(458.0,3648.0) scale(1,1.12)" y="14.7">1698.8</text>
<text transform="translate(690.0,3673.0) scale(1,1.12)" y="14.7">1695.1</text>
<text transform="translate(925.0,3681.0) scale(1,1.12)" y="14.7">1693.3</text>
<text transform="translate(1088.0,3661.0) scale(1,1.12)" y="14.7">1692.4</text>
<text transform="translate(468.0,3713.0) scale(1,1.12)" y="14.7">1697.9</text>
<text transform="translate(650.0,3740.0) scale(1,1.12)" y="14.7">1695.1</text>
<text transform="translate(890.0,3773.0) scale(1,1.12)" y="14.7">1693.3</text>
<text transform="translate(1070.0,3745.0) scale(1,1.12)" y="14.7">1692.4</text>
<text transform="translate(1225.0,3766.0) scale(1,1.12)" y="14.7">1691.4</text>
<text transform="translate(518.0,3828.0) scale(1,1.12)" y="14.7">1696</text>
<text transform="translate(720.0,3815.0) scale(1,1.12)" y="14.7">1694.2</text>
<text transform="translate(1215.0,3826.0) scale(1,1.12)" y="14.7">1691.4</text>
<text transform="translate(833.0,3878.0) scale(1,1.12)" y="14.7">1693.3</text>
<text transform="translate(1018.0,3873.0) scale(1,1.12)" y="14.7">1692.4</text>
<text transform="translate(553.0,3913.0) scale(1,1.12)" y="14.7">1695.1</text>
<text transform="translate(797.0,3946.0) scale(1,1.12)" y="14.7">1693.3</text>
<text transform="translate(1190.0,3911.0) scale(1,1.12)" y="14.7">1691.4</text>
<text transform="translate(973.0,3970.0) scale(1,1.12)" y="14.7">1692.4</text>
<text transform="translate(515.0,4018.0) scale(1,1.12)" y="14.7">1695.1</text>
<text transform="translate(763.0,4017.0) scale(1,1.12)" y="14.7">1693.3</text>
<text transform="translate(938.0,4042.0) scale(1,1.12)" y="14.7">1692.4</text>
<text transform="translate(1152.0,4024.0) scale(1,1.12)" y="14.7">1691.4</text>
<text transform="translate(733.0,4082.0) scale(1,1.12)" y="14.7">1693.3</text>
<text transform="translate(1120.0,4099.0) scale(1,1.12)" y="14.7">1691.4</text>
<text transform="translate(585.0,4147.0) scale(1,1.12)" y="14.7">1694.2</text>
<text transform="translate(898.0,4132.0) scale(1,1.12)" y="14.7">1692.4</text>
<text transform="translate(1100.0,4164.0) scale(1,1.12)" y="14.7">1691.4</text>
<text transform="translate(700.0,4244.0) scale(1,1.12)" y="14.7">1693.3</text>
<text transform="translate(868.0,4219.0) scale(1,1.12)" y="14.7">1692.4</text>
<text transform="translate(1083.0,4229.0) scale(1,1.12)" y="14.7">1691.4</text>
<text transform="translate(875.0,4342.0) scale(1,1.12)" y="14.7">1692.4</text>
<text transform="translate(1075.0,4304.0) scale(1,1.12)" y="14.7">1691.4</text>
<text transform="translate(1090.0,4369.0) scale(1,1.12)" y="14.7">1691.4</text>
<text transform="translate(1120.0,4439.0) scale(1,1.12)" y="14.7">1691.4</text>
<text transform="translate(1273.0,3485.0) scale(1,1.12)" y="14.7">1690.5</text>
<text transform="translate(1360.0,3626.0) scale(1,1.12)" y="14.7">1690.5</text>
<text transform="translate(1385.0,3728.0) scale(1,1.12)" y="14.7">1690.5</text>
<text transform="translate(1395.0,3825.0) scale(1,1.12)" y="14.7">1690.5</text>
<text transform="translate(1395.0,3890.0) scale(1,1.12)" y="14.7">1690.5</text>
<text transform="translate(1392.0,3956.0) scale(1,1.12)" y="14.7">1690.5</text>
<text transform="translate(1385.0,4024.0) scale(1,1.12)" y="14.7">1690.5</text>
<text transform="translate(1368.0,4122.0) scale(1,1.12)" y="14.7">1690.5</text>
<text transform="translate(1357.0,4204.0) scale(1,1.12)" y="14.7">1690.5</text>
<text transform="translate(1355.0,4272.0) scale(1,1.12)" y="14.7">1690.5</text>
<text transform="translate(1357.0,4339.0) scale(1,1.12)" y="14.7">1690.5</text>
<text transform="translate(1385.0,4419.0) scale(1,1.12)" y="14.7">1690.5</text>
<text transform="translate(1428.0,4487.0) scale(1,1.12)" y="14.7">1690.5</text>
<text transform="translate(1515.0,4562.0) scale(1,1.12)" y="14.7">1690.5</text>
<text transform="translate(1430.0,3546.0) scale(1,1.12)" y="14.7">1689.6</text>
<text transform="translate(1515.0,3638.0) scale(1,1.12)" y="14.7">1689.6</text>
<text transform="translate(1560.0,3706.0) scale(1,1.12)" y="14.7">1689.6</text>
<text transform="translate(1605.0,3771.0) scale(1,1.12)" y="14.7">1689.6</text>
<text transform="translate(1638.0,3840.0) scale(1,1.12)" y="14.7">1689.6</text>
<text transform="translate(1660.0,3906.0) scale(1,1.12)" y="14.7">1689.6</text>
<text transform="translate(1692.0,4006.0) scale(1,1.12)" y="14.7">1689.6</text>
<text transform="translate(1708.0,4072.0) scale(1,1.12)" y="14.7">1689.6</text>
<text transform="translate(1732.0,4171.0) scale(1,1.12)" y="14.7">1689.6</text>
<text transform="translate(1753.0,4264.0) scale(1,1.12)" y="14.7">1689.6</text>
<text transform="translate(1777.0,4337.0) scale(1,1.12)" y="14.7">1689.6</text>
<text transform="translate(1820.0,4419.0) scale(1,1.12)" y="14.7">1689.6</text>
<text transform="translate(1902.0,4502.0) scale(1,1.12)" y="14.7">1689.6</text>
<text transform="translate(2047.0,4579.0) scale(1,1.12)" y="14.7">1689.6</text>
<text transform="translate(2285.0,4631.0) scale(1,1.12)" y="14.7">1689.6</text>
<text transform="translate(1655.0,3558.0) scale(1,1.12)" y="14.7">1688.7</text>
<text transform="translate(1868.0,3656.0) scale(1,1.12)" y="14.7">1688.7</text>
<text transform="translate(2030.0,3786.0) scale(1,1.12)" y="14.7">1688.7</text>
<text transform="translate(2225.0,3913.0) scale(1,1.12)" y="14.7">1688.7</text>
<text transform="translate(1485.0,3431.0) scale(1,1.12)" y="14.7">1687.8</text>
<text transform="translate(1635.0,3436.0) scale(1,1.12)" y="14.7">1687.8</text>
<text transform="translate(1900.0,3461.0) scale(1,1.12)" y="14.7">1687.8</text>
<text transform="translate(2070.0,3516.0) scale(1,1.12)" y="14.7">1687.8</text>
<text transform="translate(2240.0,3586.0) scale(1,1.12)" y="14.7">1687.8</text>
<text transform="translate(1740.0,3373.0) scale(1,1.12)" y="14.7">1686.8</text>
<text transform="translate(1895.0,3378.0) scale(1,1.12)" y="14.7">1686.8</text>
<text transform="translate(2060.0,3405.0) scale(1,1.12)" y="14.7">1686.8</text>
<text transform="translate(2287.0,3445.0) scale(1,1.12)" y="14.7">1686.8</text>
<text transform="translate(2284.0,3379.0) scale(1,1.12)" y="14.7">1685.9</text>
</g>
<g>
<rect x="71.5" y="3308" width="269.0" height="899" fill="#fff" stroke="#2e2e2e" stroke-width="3.6"/>
<rect x="73.0" y="3309.5" width="266.0" height="67" fill="#dadada"/>
<rect x="71.5" y="3374.0" width="269.0" height="5.5" fill="#484848"/>
<rect x="74.0" y="3311.5" width="50.0" height="61.0" fill="#04f4f4" stroke="#184040" stroke-width="2.5"/>
<path d="M76.0,3342.0L98.0,3317.6L98.0,3329.8L119.0,3329.8L119.0,3354.2L98.0,3354.2L98.0,3366.4Z" fill="#8a0404" stroke="#2a0000" stroke-width="2.5" stroke-linejoin="round"/>
<text transform="translate(131.5,3359.8) scale(0.95,1.2)" font-family="'DejaVu Sans Condensed', 'DejaVu Sans', 'Liberation Sans', sans-serif" font-size="37.7" fill="#202020" stroke="#202020" stroke-width="1.5">T[K]</text>
<rect x="280.9" y="3317.0" width="58.6" height="52.0" fill="#5080b0"/>
<rect x="272.9" y="3309.0" width="66.6" height="3.5" fill="#d87a28"/>
<rect x="272.9" y="3371.0" width="66.6" height="3.5" fill="#d87a28"/>
<text transform="translate(282.4,3361.9) scale(0.52,1)" font-family="'Liberation Sans', sans-serif" font-weight="bold" font-size="51.8" fill="#fff">STR</text>
<rect x="91" y="3408.5" width="83.5" height="76.8" fill="#fc0000" stroke="#101810" stroke-width="3.6"/>
<rect x="91" y="3485.3" width="83.5" height="76.8" fill="#ff7600" stroke="#101810" stroke-width="3.6"/>
<rect x="91" y="3562.2" width="83.5" height="76.8" fill="#ffe400" stroke="#101810" stroke-width="3.6"/>
<rect x="91" y="3639.1" width="83.5" height="76.8" fill="#aaff04" stroke="#101810" stroke-width="3.6"/>
<rect x="91" y="3715.9" width="83.5" height="76.8" fill="#44fe04" stroke="#101810" stroke-width="3.6"/>
<rect x="91" y="3792.8" width="83.5" height="76.8" fill="#00fe2a" stroke="#101810" stroke-width="3.6"/>
<rect x="91" y="3869.6" width="83.5" height="76.8" fill="#00ff9e" stroke="#101810" stroke-width="3.6"/>
<rect x="91" y="3946.4" width="83.5" height="76.8" fill="#00e5ff" stroke="#101810" stroke-width="3.6"/>
<rect x="91" y="4023.3" width="83.5" height="76.8" fill="#0069ff" stroke="#101810" stroke-width="3.6"/>
<rect x="91" y="4100.1" width="83.5" height="76.8" fill="#0202fa" stroke="#101810" stroke-width="3.6"/>
<g font-family="'DejaVu Sans Condensed', 'DejaVu Sans', 'Liberation Sans', sans-serif" font-size="37.7" fill="#101024" stroke="#101024" stroke-width="1.7">
<text transform="translate(206,3417.0) scale(1,1.12)" y="13.8">1703.3</text>
<text transform="translate(206,3492.6) scale(1,1.12)" y="13.8">1701.4</text>
<text transform="translate(206,3568.2) scale(1,1.12)" y="13.8">1699.6</text>
<text transform="translate(206,3643.8) scale(1,1.12)" y="13.8">1697.8</text>
<text transform="translate(206,3719.4) scale(1,1.12)" y="13.8">1696</text>
<text transform="translate(206,3795.0) scale(1,1.12)" y="13.8">1694.1</text>
<text transform="translate(206,3870.6) scale(1,1.12)" y="13.8">1692.3</text>
<text transform="translate(206,3946.2) scale(1,1.12)" y="13.8">1690.5</text>
<text transform="translate(206,4021.8) scale(1,1.12)" y="13.8">1688.7</text>
<text transform="translate(206,4097.4) scale(1,1.12)" y="13.8">1686.8</text>
<text transform="translate(206,4173.0) scale(1,1.12)" y="13.8">1685</text>
</g></g>
</g>
<text x="1200" y="4818" font-family="'Liberation Serif', serif" font-size="84" text-anchor="middle" fill="#000">(<tspan font-weight="bold">c</tspan>)</text>
</svg></body></html>
